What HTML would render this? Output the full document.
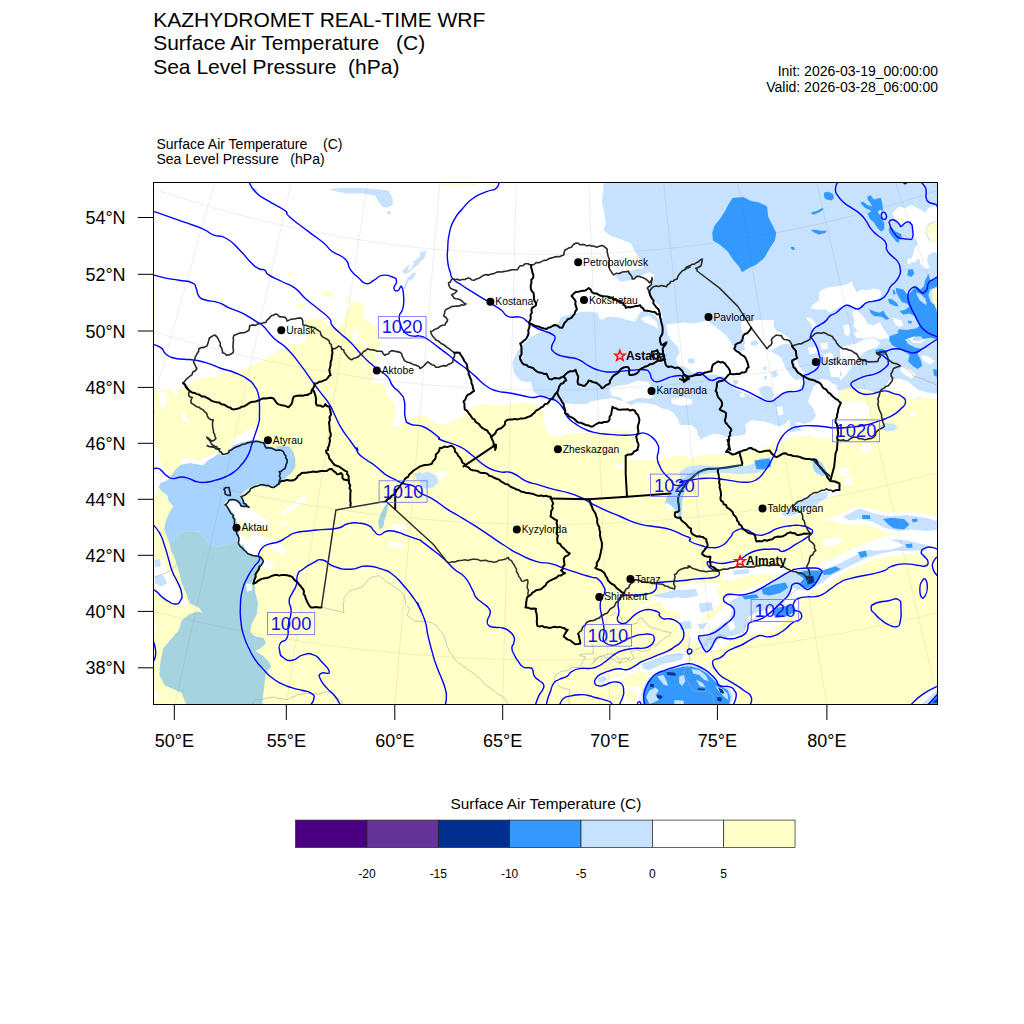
<!DOCTYPE html><html><head><meta charset="utf-8"><title>KAZHYDROMET REAL-TIME WRF</title><style>html,body{margin:0;padding:0;background:#fff}svg{display:block}text{font-family:"Liberation Sans",sans-serif}</style></head><body>
<svg width="1024" height="1024" viewBox="0 0 1024 1024">
<rect width="1024" height="1024" fill="#fff"/>
<defs><clipPath id="fr"><rect x="153.5" y="182.5" width="784.0" height="522.0"/></clipPath></defs>
<g fill="#000">
<text x="153.2" y="26.7" font-size="21">KAZHYDROMET REAL-TIME WRF</text>
<text x="153.2" y="50.3" font-size="21">Surface Air Temperature</text>
<text x="153.2" y="73.9" font-size="21">Sea Level Pressure  (hPa)</text>
<text x="396" y="50.3" font-size="21">(C)</text>
<text x="938" y="76" font-size="14" text-anchor="end">Init: 2026-03-19_00:00:00</text>
<text x="938" y="92" font-size="14" text-anchor="end">Valid: 2026-03-28_06:00:00</text>
<text x="156.5" y="149" font-size="14">Surface Air Temperature</text>
<text x="323" y="149" font-size="14">(C)</text>
<text x="156.5" y="164" font-size="14">Sea Level Pressure   (hPa)</text>
</g>
<g clip-path="url(#fr)">
<path d="M603.3,182.6 L603.3,189.2 L601.9,201.1 L604.6,214.3 L605.9,223.5 L603.3,230.1 L609.8,235.4 L620.4,239.3 L630.9,243.3 L634.9,251.2 L640.2,259.1 L644.1,264.4 L642.8,268.3 L636.2,269.1 L630.9,271.0 L620.4,272.3 L615.1,276.2 L620.4,281.5 L630.9,280.2 L638.8,276.2 L649.4,272.3 L654.7,274.9 L652.0,284.2 L646.8,290.7 L652.0,298.7 L659.9,306.6 L662.6,317.1 L658.6,319.7 L654.7,314.5 L646.8,311.8 L640.2,311.8 L636.2,319.7 L628.3,317.1 L620.4,314.5 L609.8,315.8 L601.9,319.7 L599.3,313.2 L591.4,311.8 L580.8,311.8 L570.3,314.5 L561.1,317.1 L557.1,323.7 L549.2,329.0 L538.7,332.9 L530.7,336.9 L524.2,343.5 L517.6,351.4 L512.3,361.9 L513.6,372.5 L520.2,380.4 L530.7,383.0 L533.4,390.9 L541.3,398.8 L551.8,398.8 L562.4,402.8 L572.9,404.1 L585.0,404.0 L600.0,400.0 L612.0,398.0 L625.0,402.0 L640.0,410.0 L652.0,418.0 L665.0,425.0 L680.0,432.0 L695.0,440.0 L705.0,446.0 L720.0,440.0 L735.0,436.0 L745.0,425.0 L752.0,418.0 L760.0,424.0 L775.0,430.0 L790.0,432.0 L806.0,430.0 L827.0,428.0 L835.0,425.0 L838.0,412.0 L835.6,398.8 L838.2,390.9 L848.8,388.3 L864.6,389.6 L877.8,393.6 L890.9,396.2 L904.1,397.5 L917.3,398.8 L927.9,396.2 L940.0,394.9 L940.0,180.0Z" fill="#C6E2FF"/>
<path d="M150.0,390.9 L153.4,390.9 L165.8,389.6 L183.0,388.3 L193.5,381.7 L202.7,377.8 L215.9,376.4 L229.1,372.5 L242.3,369.8 L260.7,361.9 L273.9,354.0 L279.2,350.1 L287.1,348.7 L290.0,345.2 L299.4,344.4 L305.6,341.2 L307.2,335.0 L304.1,327.2 L305.6,319.4 L311.9,317.8 L321.2,319.4 L329.1,325.6 L336.9,328.8 L343.1,322.5 L346.2,313.1 L349.4,306.9 L352.5,302.2 L358.8,302.2 L363.4,305.3 L365.0,310.0 L361.9,316.2 L368.1,322.5 L374.4,325.6 L377.5,331.9 L377.5,338.1 L382.2,344.4 L377.5,347.5 L374.4,353.8 L377.5,360.0 L374.4,366.2 L371.2,369.4 L372.8,378.8 L377.5,383.4 L383.8,385.0 L386.9,394.4 L389.7,398.8 L395.9,405.0 L395.2,414.4 L392.0,423.8 L392.8,428.4 L400.6,426.1 L408.4,419.1 L416.2,416.7 L424.1,415.2 L430.3,419.1 L436.6,423.0 L441.2,425.3 L447.5,423.0 L455.3,419.8 L463.1,416.7 L467.8,411.2 L469.4,408.1 L478.8,405.8 L485.0,403.4 L492.8,405.0 L500.6,405.8 L508.4,404.2 L520.0,403.4 L525.5,402.8 L536.0,404.1 L540.0,409.4 L545.2,412.0 L543.9,419.9 L546.6,433.1 L557.1,437.1 L572.9,433.1 L591.4,433.1 L609.8,430.5 L630.9,430.5 L637.5,435.8 L637.5,449.2 L644.1,455.8 L657.3,461.1 L667.8,458.5 L681.0,454.5 L690.5,458.5 L706.4,454.5 L719.6,450.5 L727.5,453.2 L738.0,451.9 L743.3,450.5 L751.2,447.9 L759.1,453.2 L764.4,442.4 L777.6,439.7 L790.7,437.1 L806.6,435.8 L827.7,433.1 L835.6,430.5 L838.2,412.0 L835.6,398.8 L838.2,390.9 L848.8,388.3 L864.6,389.6 L877.8,393.6 L890.9,396.2 L904.1,397.5 L917.3,398.8 L927.9,396.2 L940.0,394.9 L940.0,706.0 L150.0,706.0Z" fill="#FFFFC8"/>
<path d="M732.7,197.9 L743.3,197.1 L751.2,201.1 L759.1,202.4 L767.0,206.4 L768.3,216.9 L772.3,224.8 L776.2,232.7 L774.9,240.6 L769.6,248.6 L764.4,257.8 L756.5,264.4 L748.6,268.3 L742.0,272.3 L739.3,267.0 L732.7,259.1 L727.5,251.2 L719.6,244.6 L713.0,240.6 L712.2,232.7 L714.3,226.1 L719.6,219.6 L724.8,211.6 L728.8,203.7Z" fill="#3399FF"/>
<path d="M275.0,446.6 L282.8,445.8 L289.1,446.6 L293.0,451.2 L295.3,459.1 L295.3,466.9 L291.4,473.1 L287.5,476.2 L284.4,479.4 L287.5,474.7 L290.6,470.0 L293.0,459.1 L290.6,451.2 L287.5,448.9 L281.2,449.7Z" fill="#A6D3E0"/>
<path d="M158.6,487.2 L160.9,482.5 L167.2,480.2 L171.9,474.7 L176.6,468.4 L181.2,464.5 L189.1,463.0 L195.3,463.8 L203.1,465.3 L207.8,460.6 L214.1,455.9 L218.8,453.6 L221.9,455.9 L226.6,455.2 L229.7,450.5 L234.4,445.0 L240.6,442.7 L246.9,441.1 L253.1,439.5 L259.4,440.3 L264.1,443.4 L268.8,446.6 L275.0,448.1 L281.2,448.9 L287.5,448.1 L290.6,451.2 L293.0,459.1 L293.8,465.3 L290.6,470.0 L287.5,474.7 L284.4,479.4 L280.5,482.5 L278.1,487.2 L273.4,486.4 L265.6,484.8 L257.8,484.1 L251.6,486.4 L246.9,489.5 L242.2,493.4 L239.8,497.3 L243.8,501.2 L248.4,505.9 L243.8,507.5 L239.1,504.4 L234.4,501.2 L228.1,500.5 L224.2,503.6 L225.8,507.5 L231.2,510.6 L235.2,515.3 L236.7,521.6 L237.5,527.8 L239.1,534.1 L237.5,540.3 L232.8,543.4 L226.6,545.0 L218.8,546.6 L212.5,545.8 L207.8,541.9 L203.1,535.6 L198.4,531.7 L192.2,530.9 L184.4,531.7 L178.1,535.6 L173.4,540.3 L169.5,543.4 L167.2,537.2 L164.1,529.4 L165.6,521.6 L168.8,513.8 L173.4,505.9 L168.8,501.2 L167.2,495.0 L162.5,491.9Z" fill="#A9D3FF"/>
<path d="M169.5,543.4 L173.4,540.3 L178.1,535.6 L184.4,531.7 L192.2,530.9 L198.4,531.7 L203.1,535.6 L207.8,541.9 L212.5,545.8 L218.8,546.6 L226.6,545.0 L232.8,543.4 L237.5,540.3 L237.5,543.4 L243.8,545.0 L246.9,552.8 L253.1,554.4 L259.4,556.7 L263.3,560.6 L260.9,566.9 L256.2,573.1 L254.7,580.0 L254.2,582.4 L255.5,592.9 L258.1,603.5 L256.8,614.0 L251.5,624.6 L250.2,632.5 L255.5,636.4 L263.4,637.8 L266.0,643.0 L260.7,648.3 L255.5,650.9 L263.4,656.2 L268.7,661.5 L271.3,666.8 L266.0,672.0 L264.7,682.6 L263.4,693.1 L262.1,706.3 L186.9,706.3 L181.6,693.1 L173.7,689.2 L164.5,685.2 L159.2,674.7 L160.5,661.5 L163.2,648.3 L171.1,639.1 L179.0,629.8 L181.6,620.6 L189.6,614.0 L197.5,611.4 L202.7,612.7 L198.8,607.4 L189.6,603.5 L186.9,595.6 L181.6,582.4 L179.0,571.8 L175.0,558.7 L171.1,550.7Z" fill="#A6D3E0"/>
<path d="M892.5,213.6 L895.6,209.7 L898.8,206.6 L905.0,208.1 L911.2,205.0 L915.9,207.3 L920.6,209.7 L925.3,212.8 L928.4,208.1 L934.7,205.8 L937.8,206.6 L937.8,220.6 L930.0,222.2 L926.1,226.9 L925.3,233.1 L928.4,239.4 L933.1,242.5 L937.8,244.1 L937.8,253.4 L933.1,251.9 L928.4,255.0 L926.9,261.2 L930.0,267.5 L925.3,269.1 L920.6,264.4 L919.1,258.1 L914.4,262.8 L909.7,261.2 L912.8,255.0 L914.4,248.8 L917.5,244.1 L915.9,239.4 L912.8,237.8 L912.8,225.3 L910.5,222.2 L906.6,221.4 L901.9,226.1 L898.8,222.2 L894.8,219.1Z" fill="#FFFFFF"/>
<path d="M926.9,226.9 L930.8,223.8 L937.8,220.6 L937.8,244.1 L933.1,242.5 L928.4,237.8 L926.1,231.6Z" fill="#FFFFC8"/>
<path d="M930.0,231.6 L934.7,231.6 L934.7,237.8 L930.0,237.8Z" fill="#FFFFFF"/>
<path d="M932.3,289.4 L937.8,287.8 L937.8,308.1 L933.9,306.6 L932.3,298.8Z" fill="#FFFFC8"/>
<path d="M810.5,308.1 L814.4,303.4 L819.1,300.3 L819.1,292.5 L822.2,289.4 L830.0,287.0 L837.8,286.2 L845.6,284.7 L851.9,281.6 L853.4,286.2 L856.6,292.5 L861.2,289.4 L867.5,290.2 L873.8,288.6 L880.0,289.4 L881.6,295.6 L876.9,300.3 L867.5,301.9 L861.2,305.0 L856.6,308.1 L850.3,306.6 L845.6,305.0 L840.9,306.6 L834.7,309.7 L830.0,312.8 L825.3,308.9 L817.5,309.7Z" fill="#FFFFFF"/>
<path d="M805.8,317.5 L811.2,318.3 L815.2,322.2 L815.9,326.9 L812.8,330.0 L811.2,324.5 L808.1,320.6Z" fill="#FFFFFF"/>
<path d="M852.7,309.7 L856.6,309.7 L861.2,314.4 L865.2,319.1 L867.5,323.8 L873.8,325.3 L880.0,322.2 L883.1,328.4 L887.8,334.7 L889.4,337.8 L881.6,337.0 L873.8,334.7 L867.5,333.1 L861.2,334.7 L856.6,330.0 L853.4,325.3 L855.0,320.6 L852.7,315.9Z" fill="#FFFFFF"/>
<path d="M843.3,325.3 L848.8,324.5 L850.3,330.0 L848.8,336.2 L844.8,334.7Z" fill="#FFFFFF"/>
<path d="M892.5,317.5 L897.2,319.1 L901.9,320.6 L903.4,325.3 L898.8,326.9 L894.8,323.8Z" fill="#FFFFFF"/>
<path d="M908.1,258.1 L911.2,259.7 L910.5,264.4 L907.3,263.6Z" fill="#FFFFFF"/>
<path d="M824.2,192.5 L828.4,191.7 L833.1,194.1 L833.9,198.8 L830.8,200.6 L825.3,199.1 L823.8,195.6Z" fill="#3399FF"/>
<path d="M811.2,212.5 L816.7,210.9 L822.2,208.1 L823.4,209.4 L819.8,212.0 L814.4,214.4 L811.7,214.1Z" fill="#3399FF"/>
<path d="M810.9,230.0 L815.9,229.7 L820.6,230.8 L826.6,230.8 L825.3,233.1 L819.1,234.4 L813.6,232.3Z" fill="#3399FF"/>
<path d="M790.6,246.9 L794.1,246.9 L794.8,250.3 L791.7,249.5Z" fill="#3399FF"/>
<path d="M867.5,196.4 L870.6,195.3 L873.8,199.5 L877.7,198.4 L880.8,198.0 L882.3,203.4 L883.1,211.2 L880.0,209.7 L877.7,212.0 L881.6,217.5 L884.4,223.8 L883.9,230.0 L880.8,231.6 L876.9,226.9 L873.8,222.2 L869.8,219.1 L867.5,213.6 L871.4,211.2 L869.1,209.7 L865.2,208.1 L862.0,205.0 L860.5,201.9 L863.6,201.9 L867.5,205.0 L872.2,206.6 L869.8,201.9 L867.5,199.5Z" fill="#3399FF"/>
<path d="M889.4,226.9 L892.5,228.4 L895.6,231.6 L901.1,233.9 L901.9,237.0 L898.8,238.6 L899.5,242.5 L896.4,241.7 L892.5,237.0 L889.4,233.1 L888.6,229.2Z" fill="#3399FF"/>
<path d="M895.6,287.8 L903.4,289.4 L908.1,295.6 L912.8,289.4 L915.9,286.2 L920.6,289.4 L923.8,286.2 L925.3,280.0 L928.4,273.8 L930.0,280.0 L933.9,278.4 L937.8,276.1 L937.8,286.2 L930.0,289.4 L928.4,295.6 L930.8,301.9 L934.7,305.0 L937.8,314.4 L937.8,336.2 L930.0,336.2 L925.3,331.6 L919.1,334.7 L912.8,335.5 L905.0,334.7 L897.2,332.3 L898.8,329.2 L906.6,330.0 L915.9,328.4 L920.6,325.3 L917.5,320.6 L914.4,315.9 L909.7,313.6 L903.4,314.4 L899.5,311.2 L905.0,309.7 L909.7,306.6 L906.6,303.4 L901.9,301.9 L898.8,297.2 L896.4,292.5Z" fill="#3399FF"/>
<path d="M915.9,292.5 L920.6,294.1 L925.3,298.8 L926.9,305.0 L923.8,303.4 L919.8,300.3 L917.5,296.4Z" fill="#C6E2FF"/>
<path d="M908.1,269.8 L912.8,269.1 L914.4,273.8 L911.2,276.9 L907.3,275.3Z" fill="#3399FF"/>
<path d="M869.1,308.9 L873.8,311.2 L880.0,312.8 L883.1,310.5 L885.5,314.4 L889.4,319.1 L886.2,319.8 L881.6,316.7 L873.8,315.9 L870.6,312.8Z" fill="#3399FF"/>
<path d="M887.8,298.8 L892.5,299.5 L897.2,303.4 L898.8,306.6 L894.1,305.8 L889.4,303.4Z" fill="#3399FF"/>
<path d="M892.5,289.4 L894.8,290.2 L895.6,294.1 L893.3,294.8Z" fill="#3399FF"/>
<path d="M908.1,320.6 L912.0,321.4 L911.2,323.8 L908.1,323.0Z" fill="#3399FF"/>
<path d="M795.6,351.9 L805.0,345.6 L811.2,340.9 L820.6,339.4 L831.6,344.1 L839.4,348.8 L845.6,345.6 L855.0,344.1 L864.4,339.4 L873.8,337.8 L880.0,342.5 L876.9,347.2 L867.5,350.3 L861.2,355.0 L855.0,361.2 L850.3,369.1 L845.6,375.3 L839.4,381.6 L836.2,387.8 L839.4,392.5 L840.9,398.8 L845.6,401.9 L858.1,400.3 L867.5,403.4 L870.6,411.2 L867.5,417.5 L855.0,419.1 L842.5,423.8 L834.7,430.0 L831.6,438.6 L812.8,437.8 L808.1,431.6 L800.3,429.2 L795.6,423.8 L801.9,417.5 L811.2,414.4 L815.9,406.6 L812.8,398.8 L808.1,394.1 L809.7,389.4 L815.9,384.7 L820.6,381.6 L811.2,376.9 L803.4,375.3 L797.2,369.1 L794.1,361.2Z" fill="#FFFFFF"/>
<path d="M808.1,348.8 L815.9,347.2 L820.6,351.9 L819.1,358.1 L814.4,362.8 L809.7,359.7 L806.6,353.4Z" fill="#C6E2FF"/>
<path d="M822.2,365.9 L831.6,364.4 L839.4,369.1 L842.5,375.3 L836.2,378.4 L828.4,375.3 L823.8,370.6Z" fill="#C6E2FF"/>
<path d="M826.9,348.8 L834.7,350.3 L837.8,355.0 L833.1,356.6 L828.4,353.4Z" fill="#C6E2FF"/>
<path d="M853.4,333.1 L861.2,330.0 L873.8,330.8 L886.2,334.7 L889.4,337.8 L880.0,339.4 L873.8,337.0 L864.4,338.6 L856.6,337.8Z" fill="#FFFFFF"/>
<path d="M889.4,380.0 L898.8,378.4 L908.1,381.6 L917.5,389.4 L926.9,392.5 L937.8,394.1 L937.8,398.8 L920.6,397.2 L908.1,399.5 L903.4,391.7 L892.5,390.9 L883.1,390.2 L886.2,384.7Z" fill="#FFFFFF"/>
<path d="M901.9,365.9 L909.7,369.1 L915.9,375.3 L911.2,378.4 L905.0,375.3 L900.3,370.6Z" fill="#FFFFFF"/>
<path d="M920.6,355.0 L928.4,356.6 L934.7,361.2 L930.0,364.4 L923.8,361.2Z" fill="#FFFFFF"/>
<path d="M908.1,337.8 L917.5,336.2 L925.3,339.4 L920.6,343.3 L912.8,342.5Z" fill="#FFFFFF"/>
<path d="M839.4,392.5 L845.6,390.2 L853.4,388.6 L858.1,392.5 L867.5,394.1 L867.5,403.4 L858.1,400.3 L845.6,401.9 L840.9,398.8Z" fill="#FFFFC8"/>
<path d="M867.5,394.1 L876.9,392.5 L883.1,390.2 L892.5,390.9 L903.4,391.7 L908.1,399.5 L898.8,403.4 L889.4,408.1 L880.0,414.4 L870.6,417.5 L870.6,411.2 L867.5,403.4Z" fill="#FFFFC8"/>
<path d="M880.0,425.3 L886.2,423.0 L894.1,423.8 L898.0,426.9 L894.1,430.8 L886.2,431.6 L881.6,430.0Z" fill="#C6E2FF"/>
<path d="M861.2,445.6 L867.5,443.3 L871.4,447.2 L867.5,452.7 L862.0,452.7Z" fill="#FFFFFF"/>
<path d="M909.7,412.8 L915.2,410.5 L915.9,415.2 L911.2,417.5Z" fill="#FFFFFF"/>
<path d="M837.8,470.6 L845.6,468.3 L848.0,473.0 L840.9,476.9Z" fill="#FFFFFF"/>
<path d="M844.8,477.7 L851.1,476.1 L851.9,480.8 L846.4,482.3Z" fill="#FFFFFF"/>
<path d="M889.4,336.2 L898.8,333.1 L909.7,331.6 L920.6,330.0 L930.0,330.0 L937.8,333.1 L937.8,339.4 L930.0,337.8 L920.6,339.4 L914.4,336.2 L905.0,339.4 L908.1,344.1 L914.4,347.2 L920.6,348.8 L917.5,353.4 L920.6,359.7 L922.2,365.9 L917.5,369.1 L912.8,365.9 L908.1,361.2 L909.7,355.0 L905.0,351.9 L898.8,348.8 L892.5,345.6 L889.4,340.9Z" fill="#3399FF"/>
<path d="M912.8,337.0 L920.6,336.2 L923.8,339.4 L917.5,341.7 L912.8,340.2Z" fill="#C6E2FF"/>
<path d="M875.3,350.3 L881.6,348.8 L887.8,351.1 L886.2,355.0 L880.0,355.8 L876.1,353.4Z" fill="#3399FF"/>
<path d="M933.1,369.1 L937.0,369.8 L937.0,376.9 L933.9,375.3Z" fill="#3399FF"/>
<path d="M812.8,459.7 L817.5,459.7 L822.2,462.8 L825.3,469.1 L826.9,475.3 L822.2,476.1 L815.9,473.0 L812.8,467.5Z" fill="#A9D3FF"/>
<path d="M666.2,324.4 L674.0,323.4 L683.8,322.5 L691.6,323.4 L699.4,322.5 L707.2,320.5 L715.0,326.4 L720.9,331.2 L726.7,336.1 L732.6,342.0 L736.5,340.0 L739.4,333.2 L740.4,326.4 L746.2,322.5 L752.1,323.4 L759.9,321.5 L766.8,320.5 L773.6,325.4 L776.5,331.2 L780.4,332.2 L786.3,336.1 L790.0,339.1 L790.0,367.4 L777.5,367.4 L766.8,368.4 L758.0,372.3 L750.2,375.2 L742.3,374.2 L732.6,375.2 L726.7,377.1 L720.9,376.2 L715.0,374.2 L707.2,375.2 L699.4,374.2 L691.6,372.3 L687.7,368.4 L683.8,366.4 L677.9,365.4 L675.9,358.6 L679.8,352.7 L677.9,346.9 L672.0,341.0 L668.1,335.2 L667.1,329.3Z" fill="#FFFFFF"/>
<path d="M750.2,342.0 L758.0,342.0 L758.9,345.9 L751.1,346.5Z" fill="#C6E2FF"/>
<path d="M769.7,350.8 L777.5,348.8 L785.3,352.7 L790.0,354.7 L790.0,364.5 L781.4,362.5 L773.6,358.6Z" fill="#C6E2FF"/>
<path d="M687.7,358.6 L694.5,358.6 L694.5,363.5 L688.6,363.5Z" fill="#C6E2FF"/>
<path d="M609.5,387.9 L617.3,385.9 L629.1,384.0 L638.8,380.5 L648.6,382.0 L650.5,385.9 L648.6,393.8 L654.5,396.7 L648.6,398.6 L638.8,397.7 L629.1,401.6 L623.2,402.5 L621.2,397.7 L611.5,395.7Z" fill="#FFFFFF"/>
<path d="M671.1,398.6 L681.8,396.7 L692.5,399.6 L691.6,404.5 L679.8,405.5 L671.6,403.5Z" fill="#FFFFFF"/>
<path d="M597.8,313.7 L609.5,311.7 L621.2,314.6 L633.0,318.6 L636.9,321.5 L629.1,320.5 L619.3,317.6 L607.6,316.6 L599.8,319.5Z" fill="#FFFFFF"/>
<path d="M640.8,318.6 L648.6,315.6 L656.4,321.5 L658.4,329.3 L652.5,325.4 L644.7,322.5Z" fill="#FFFFFF"/>
<path d="M590.0,401.6 L601.7,399.6 L609.5,401.6 L611.5,406.4 L621.2,409.4 L629.1,406.4 L636.9,402.5 L648.6,403.5 L656.4,405.5 L662.3,408.4 L668.1,409.4 L674.0,413.3 L677.9,419.1 L679.8,425.0 L691.6,425.0 L696.4,428.9 L698.4,436.7 L707.2,436.7 L715.0,434.8 L720.9,432.8 L726.7,436.7 L730.6,440.6 L744.3,440.6 L746.2,432.8 L744.3,425.0 L752.1,421.1 L759.9,422.1 L769.7,425.0 L777.5,427.0 L785.3,425.0 L790.0,421.1 L790.0,439.6 L777.5,443.6 L765.8,446.5 L750.2,448.4 L726.7,454.3 L707.2,454.3 L691.6,456.2 L677.9,454.3 L667.1,456.2 L654.5,460.0 L626.1,460.0 L630.0,454.3 L635.3,444.5 L636.3,434.8 L635.9,429.9 L609.5,430.5 L590.0,431.8Z" fill="#FFFFFF"/>
<path d="M634.5,610.2 L641.6,604.7 L649.4,601.6 L655.6,595.3 L663.4,593.8 L672.8,587.5 L683.8,585.2 L696.2,583.6 L708.8,582.8 L719.7,583.6 L719.7,587.5 L715.0,592.2 L718.1,596.9 L722.8,601.6 L718.1,606.2 L710.3,607.8 L702.5,610.2 L696.2,609.4 L690.0,612.5 L683.8,615.6 L677.5,612.5 L672.8,610.9 L666.6,609.4 L660.3,601.6 L652.5,603.1 L644.7,606.2 L638.4,610.2Z" fill="#FFFFFF"/>
<path d="M654.1,594.5 L663.4,593.0 L671.2,590.6 L683.8,589.1 L696.2,585.9 L705.6,585.2 L708.8,590.6 L705.6,595.3 L699.4,598.4 L693.1,596.9 L688.4,601.6 L682.2,600.0 L677.5,596.9 L671.2,598.4 L663.4,597.7 L655.6,596.9Z" fill="#C6E2FF"/>
<path d="M696.2,603.9 L705.6,603.1 L715.0,604.7 L713.4,610.2 L704.1,610.9 L697.8,608.6Z" fill="#C6E2FF"/>
<path d="M677.5,612.5 L683.8,615.6 L690.0,612.5 L696.2,618.8 L699.4,628.1 L697.8,635.9 L693.1,642.2 L686.9,643.8 L690.0,634.4 L691.6,625.0 L686.9,620.3Z" fill="#FFFFFF"/>
<path d="M696.2,621.9 L708.8,618.8 L721.2,617.2 L722.8,623.4 L718.1,629.7 L708.8,631.2 L699.4,631.2Z" fill="#FFFFFF"/>
<path d="M697.8,624.2 L707.2,622.7 L719.7,623.4 L718.1,628.9 L708.8,629.7 L699.4,628.9Z" fill="#C6E2FF"/>
<path d="M722.8,564.8 L730.6,563.3 L740.0,561.7 L750.0,559.4 L750.0,570.3 L740.0,571.9 L730.6,576.6 L724.4,581.2 L721.2,578.1 L724.4,571.9 L727.5,568.8Z" fill="#FFFFFF"/>
<path d="M744.7,561.7 L750.0,560.2 L750.0,565.6 L746.2,566.4Z" fill="#C6E2FF"/>
<path d="M697.8,636.7 L705.6,633.6 L713.4,629.7 L719.7,625.0 L725.9,619.5 L730.6,614.1 L732.2,610.2 L729.1,604.7 L724.4,600.8 L722.8,596.1 L726.7,593.8 L750.0,593.0 L750.0,632.8 L743.1,635.9 L736.9,638.3 L730.6,639.8 L724.4,637.5 L718.9,639.1 L715.0,643.8 L711.9,650.0 L707.2,652.3 L702.5,649.2 L699.4,643.8Z" fill="#FFFFFF"/>
<path d="M699.4,637.5 L705.6,635.2 L713.4,631.2 L719.7,626.6 L725.9,621.1 L731.4,615.6 L733.8,610.2 L730.6,604.7 L725.9,600.8 L724.4,596.9 L727.5,595.3 L750.0,594.5 L750.0,631.2 L743.1,634.4 L736.9,636.7 L730.6,638.3 L724.4,635.9 L718.1,637.5 L713.4,642.2 L711.1,647.7 L707.2,650.8 L703.3,647.7 L700.2,642.2Z" fill="#C6E2FF"/>
<path d="M729.1,626.6 L733.8,625.8 L734.5,632.8 L729.8,634.4Z" fill="#FFFFFF"/>
<path d="M735.3,606.2 L740.0,605.5 L740.8,610.9 L736.1,610.9Z" fill="#FFFFFF"/>
<path d="M738.4,595.3 L746.2,594.5 L746.2,597.7 L739.2,598.1Z" fill="#3399FF"/>
<path d="M640.0,704.7 L640.0,693.8 L643.1,684.4 L649.4,676.6 L657.2,671.1 L665.0,667.2 L674.4,664.8 L683.8,662.5 L693.1,662.8 L702.5,664.8 L710.3,670.3 L716.6,676.6 L722.8,682.0 L730.6,685.2 L736.9,690.6 L738.4,698.4 L735.3,704.7Z" fill="#FFFFFF"/>
<path d="M596.2,677.3 L602.5,673.4 L611.9,670.3 L621.2,668.8 L630.6,669.5 L638.4,665.6 L646.2,660.9 L655.6,657.8 L665.0,653.9 L674.4,651.6 L682.2,650.0 L686.9,653.1 L690.0,659.4 L686.9,664.1 L677.5,665.6 L668.1,667.2 L658.8,671.9 L652.5,675.0 L646.2,673.4 L640.0,670.3 L633.8,673.4 L627.5,675.0 L621.2,679.7 L613.4,681.2 L605.6,682.8 L599.4,684.4 L596.2,682.0Z" fill="#FFFFFF"/>
<path d="M641.6,664.1 L649.4,660.9 L658.8,657.8 L668.1,654.7 L677.5,653.1 L683.8,653.9 L682.2,659.4 L674.4,661.7 L665.0,663.3 L655.6,667.2 L649.4,670.3 L643.1,668.8Z" fill="#C6E2FF"/>
<path d="M597.8,678.1 L604.1,675.8 L607.2,679.7 L602.5,682.8 L598.6,682.0Z" fill="#C6E2FF"/>
<path d="M605.6,675.0 L615.0,672.7 L624.4,671.9 L627.5,673.4 L621.2,676.6 L613.4,678.1 L607.2,678.9Z" fill="#FFFFC8"/>
<path d="M623.6,685.9 L630.6,687.5 L636.9,685.9 L641.6,690.6 L640.0,698.4 L638.4,704.7 L622.8,704.7 L623.6,696.9Z" fill="#FFFFFF"/>
<path d="M625.2,690.6 L632.2,689.8 L636.9,693.0 L635.3,700.0 L627.5,701.6 L625.2,696.9Z" fill="#FFFFC8"/>
<path d="M642.0,704.7 L641.2,694.5 L643.6,686.2 L648.6,678.1 L655.9,672.3 L664.4,669.1 L674.1,666.7 L683.8,664.4 L691.9,664.4 L700.3,666.9 L708.4,671.9 L715.0,678.4 L720.9,684.4 L729.1,688.1 L732.8,696.1 L731.2,704.7Z" fill="#C6E2FF"/>
<path d="M643.9,704.7 L643.1,695.3 L645.5,687.5 L650.2,679.7 L657.2,674.2 L665.0,671.1 L674.4,668.8 L683.8,666.4 L691.6,666.4 L699.4,668.8 L707.2,673.4 L713.4,679.7 L719.7,685.9 L727.5,689.8 L730.6,696.9 L729.1,704.7Z" fill="#3399FF"/>
<path d="M646.2,696.9 L649.4,690.6 L655.6,687.5 L658.8,690.6 L655.6,695.3 L658.8,700.0 L654.1,702.3 L649.4,703.9Z" fill="#C6E2FF"/>
<path d="M657.2,676.6 L663.4,675.0 L666.6,681.2 L668.1,685.9 L663.4,684.4 L660.3,680.5Z" fill="#C6E2FF"/>
<path d="M679.1,676.6 L683.8,675.0 L685.3,681.2 L682.2,685.9 L679.1,682.8Z" fill="#C6E2FF"/>
<path d="M691.6,668.8 L699.4,670.3 L705.6,675.0 L708.8,681.2 L704.1,679.7 L699.4,675.0 L693.1,673.4Z" fill="#C6E2FF"/>
<path d="M696.2,679.7 L702.5,682.8 L705.6,687.5 L699.4,685.9Z" fill="#C6E2FF"/>
<path d="M715.0,685.9 L722.8,689.1 L727.5,693.8 L728.3,700.0 L724.4,696.9 L719.7,692.2Z" fill="#C6E2FF"/>
<path d="M674.4,700.0 L683.8,700.8 L683.8,704.7 L674.4,704.7Z" fill="#C6E2FF"/>
<path d="M666.6,671.9 L675.2,672.7 L675.9,675.8 L667.3,675.0Z" fill="#00308F"/>
<path d="M650.2,683.6 L654.1,684.4 L653.3,687.5 L650.2,686.7Z" fill="#00308F"/>
<path d="M657.2,694.5 L662.7,696.1 L661.1,699.2 L657.2,697.7Z" fill="#00308F"/>
<path d="M718.1,687.5 L722.8,689.8 L724.4,693.8 L720.5,693.0Z" fill="#00308F"/>
<path d="M717.3,696.9 L722.0,697.7 L721.2,701.6 L717.3,700.8Z" fill="#00308F"/>
<path d="M697.8,688.3 L704.8,688.8 L704.8,690.2 L697.8,689.8Z" fill="#00308F"/>
<path d="M695.8,640.4 L706.4,624.6 L722.2,608.7 L724.8,598.2 L738.0,592.9 L759.1,585.0 L780.2,574.5 L796.0,566.6 L817.1,563.9 L838.2,556.0 L859.3,545.5 L880.4,537.6 L901.5,532.3 L917.3,529.6 L939.7,527.0 L939.7,553.4 L927.9,556.0 L917.3,554.7 L906.8,553.4 L890.9,556.0 L875.1,558.7 L864.6,563.9 L848.7,569.2 L838.2,577.1 L827.7,585.0 L811.8,591.6 L801.3,598.2 L796.0,608.7 L785.5,619.3 L772.3,629.8 L759.1,632.5 L745.9,635.1 L732.7,640.4 L719.6,648.3 L709.0,653.6 L701.1,650.9Z" fill="#FFFFFF"/>
<path d="M699.8,637.8 L709.0,633.8 L719.6,625.9 L730.1,618.0 L732.7,610.1 L728.8,602.2 L740.6,595.6 L756.5,590.3 L769.6,583.7 L782.8,575.8 L796.0,570.5 L811.8,569.2 L822.4,570.5 L838.2,563.9 L848.7,558.7 L864.6,550.7 L880.4,544.2 L896.2,538.9 L912.0,541.5 L927.9,545.5 L925.2,550.7 L912.0,550.7 L896.2,550.7 L880.4,553.4 L864.6,558.7 L854.0,563.9 L843.5,569.2 L832.9,574.5 L822.4,582.4 L811.8,587.7 L801.3,590.3 L793.4,587.7 L788.1,595.6 L782.8,603.5 L769.6,608.7 L756.5,612.7 L748.6,616.7 L745.9,627.2 L740.6,633.8 L730.1,636.4 L719.6,639.1 L713.0,645.7 L709.0,650.9 L703.7,649.6 L700.6,643.0Z" fill="#C6E2FF"/>
<path d="M864.6,544.2 L880.4,540.2 L896.2,541.5 L904.1,545.5 L890.9,549.4 L875.1,550.7 L867.2,549.4Z" fill="#FFFFFF"/>
<path d="M796.0,573.2 L806.6,570.5 L821.1,570.5 L819.7,578.4 L814.5,586.3 L806.6,588.2 L798.7,584.5 L803.9,578.4Z" fill="#3399FF"/>
<path d="M805.2,577.1 L813.2,575.8 L814.5,582.4 L807.9,584.5Z" fill="#00308F"/>
<path d="M761.7,589.0 L772.3,585.0 L785.5,582.4 L788.1,587.7 L780.2,592.9 L769.6,595.6 L763.1,594.2Z" fill="#3399FF"/>
<path d="M742.0,596.1 L756.5,594.2 L759.1,597.7 L744.6,599.5Z" fill="#3399FF"/>
<path d="M822.4,570.5 L835.6,566.6 L840.8,569.2 L830.3,574.5 L823.7,575.0Z" fill="#3399FF"/>
<path d="M858.0,552.1 L865.9,550.7 L867.2,556.0 L860.6,558.1Z" fill="#3399FF"/>
<path d="M905.4,544.2 L912.0,543.4 L912.6,547.6 L906.8,548.1Z" fill="#3399FF"/>
<path d="M772.3,608.7 L790.7,604.8 L796.0,611.4 L785.5,616.7 L774.9,618.0Z" fill="#3399FF"/>
<path d="M727.5,621.9 L732.7,619.3 L735.4,627.2 L730.1,631.2Z" fill="#FFFFFF"/>
<path d="M822.4,519.1 L838.2,515.1 L854.0,507.2 L864.6,507.2 L880.4,511.2 L896.2,512.5 L917.3,512.5 L939.7,516.5 L939.7,534.9 L917.3,533.6 L906.8,537.6 L896.2,536.2 L885.7,532.3 L875.1,527.0 L864.6,524.4 L854.0,524.4 L843.5,524.4 L832.9,521.7Z" fill="#FFFFFF"/>
<path d="M843.5,516.5 L859.3,508.6 L875.1,513.8 L890.9,516.5 L906.8,515.1 L925.2,517.8 L939.7,521.7 L939.7,529.6 L925.2,531.0 L912.0,529.6 L898.8,531.0 L885.7,528.3 L872.5,521.7 L859.3,519.1 L848.7,520.4Z" fill="#C6E2FF"/>
<path d="M861.9,515.1 L869.8,515.1 L870.4,519.1 L862.5,519.1Z" fill="#3399FF"/>
<path d="M883.0,519.1 L890.9,517.8 L904.1,519.1 L909.4,524.4 L904.1,529.6 L893.6,528.3 L888.3,524.4Z" fill="#3399FF"/>
<path d="M912.0,519.1 L917.3,518.6 L917.3,521.7 L912.6,522.3Z" fill="#3399FF"/>
<path d="M777.6,515.1 L790.7,505.9 L803.9,496.7 L817.1,491.4 L827.7,487.5 L840.8,484.8 L840.8,492.7 L830.3,496.7 L819.7,503.3 L806.6,511.2 L796.0,516.5 L785.5,519.1Z" fill="#FFFFFF"/>
<path d="M781.5,513.8 L793.4,505.9 L806.6,498.0 L819.7,492.7 L827.7,491.4 L827.7,496.7 L817.1,504.6 L803.9,511.2 L793.4,515.1 L785.5,516.5Z" fill="#C6E2FF"/>
<path d="M811.8,459.8 L817.1,458.5 L823.7,466.4 L826.3,474.3 L819.7,473.0 L813.2,466.4Z" fill="#A9D3FF"/>
<path d="M838.2,469.0 L848.7,467.7 L848.7,475.6 L839.5,475.6Z" fill="#FFFFFF"/>
<path d="M861.9,445.3 L869.8,444.0 L870.4,451.9 L863.3,451.9Z" fill="#FFFFFF"/>
<path d="M843.5,482.2 L851.4,479.6 L852.7,484.8 L844.8,486.1Z" fill="#FFFFFF"/>
<path d="M680.0,471.6 L687.9,466.4 L701.1,465.0 L716.9,466.4 L732.7,467.7 L743.3,466.4 L753.8,463.7 L759.1,458.5 L769.6,457.1 L772.3,463.7 L767.0,469.0 L756.5,473.0 L743.3,474.3 L727.5,473.0 L711.6,473.0 L695.8,475.6 L685.3,479.6 L680.0,487.5Z" fill="#C6E2FF"/>
<path d="M754.4,460.6 L769.6,458.5 L771.0,466.4 L764.4,469.5 L756.5,469.0Z" fill="#3399FF"/>
<path d="M722.2,577.1 L738.0,569.2 L759.1,566.6 L785.5,566.0 L796.0,570.5 L780.2,574.5 L759.1,574.5 L743.3,577.1 L730.1,581.1Z" fill="#FFFFFF"/>
<path d="M732.7,570.5 L748.6,568.7 L749.1,573.2 L734.1,575.0Z" fill="#C6E2FF"/>
<path d="M680.0,586.3 L690.5,583.7 L706.4,585.0 L716.9,590.3 L719.6,598.2 L714.3,608.7 L706.4,614.0 L695.8,624.6 L680.0,629.8Z" fill="#FFFFFF"/>
<path d="M680.0,590.3 L695.8,589.0 L698.5,595.6 L685.3,598.2 L680.0,597.7Z" fill="#C6E2FF"/>
<path d="M698.5,603.5 L711.6,602.2 L713.0,610.1 L701.1,612.7Z" fill="#C6E2FF"/>
<path d="M680.0,621.9 L690.5,620.6 L691.9,628.5 L680.0,630.4Z" fill="#C6E2FF"/>
<path d="M822.4,540.2 L838.2,536.2 L843.5,541.5 L830.3,546.8 L823.7,545.5Z" fill="#FFFFFF"/>
<path d="M153.1,443.4 L157.0,446.6 L159.4,455.9 L161.7,465.3 L167.2,471.6 L171.9,474.7 L167.2,480.2 L160.9,482.5 L158.6,487.2 L157.8,493.4 L153.1,495.0Z" fill="#FFFFFF"/>
<path d="M228.9,443.4 L232.8,438.8 L240.6,434.8 L248.4,429.4 L253.1,427.8 L256.2,430.9 L259.4,435.6 L257.8,439.5 L253.1,439.5 L246.9,441.1 L240.6,442.7 L234.4,445.0Z" fill="#FFFFFF"/>
<path d="M225.0,502.0 L228.1,500.5 L234.4,501.2 L239.1,504.4 L243.8,507.5 L250.0,509.1 L256.2,512.2 L262.5,516.9 L268.8,520.0 L270.3,524.7 L265.6,527.8 L259.4,526.2 L256.2,529.4 L259.4,535.6 L268.8,538.8 L275.0,540.3 L281.2,545.0 L285.9,549.7 L284.4,554.4 L278.1,552.8 L271.9,549.7 L265.6,545.0 L259.4,551.2 L257.8,555.2 L253.1,554.4 L246.9,552.8 L243.8,545.0 L237.5,543.4 L239.1,534.1 L245.3,537.2 L250.0,538.8 L251.6,532.5 L250.0,527.8 L243.8,526.2 L240.6,520.0 L236.7,521.6 L235.2,515.3 L231.2,510.6 L225.8,507.5Z" fill="#FFFFFF"/>
<path d="M281.2,512.2 L287.5,507.5 L295.3,502.8 L300.0,498.1 L304.7,495.0 L306.2,501.2 L300.0,504.4 L290.6,510.6 L284.4,516.1Z" fill="#FFFFFF"/>
<path d="M279.7,523.9 L287.5,520.8 L289.1,523.1 L281.2,526.2Z" fill="#FFFFFF"/>
<path d="M262.5,561.4 L270.3,559.8 L274.2,565.3 L268.8,570.0 L263.3,567.7Z" fill="#FFFFFF"/>
<path d="M180.5,462.2 L184.4,457.5 L190.6,459.1 L196.9,460.6 L203.1,459.1 L209.4,455.2 L215.6,452.8 L218.8,453.6 L214.1,456.7 L207.8,460.6 L203.1,465.3 L195.3,463.8 L189.1,463.0 L182.8,464.5Z" fill="#FFFFFF"/>
<path d="M185.2,420.0 L189.1,420.0 L189.8,423.9 L186.7,423.1Z" fill="#FFFFFF"/>
<path d="M153.9,559.1 L159.4,557.5 L160.9,566.9 L156.2,570.0 L153.9,568.4Z" fill="#FFFFFF"/>
<path d="M153.9,574.7 L159.4,573.9 L160.9,580.0 L153.9,580.0Z" fill="#C6E2FF"/>
<path d="M388.6,541.5 L403.1,542.8 L403.1,548.1 L389.9,546.8Z" fill="#FFFFFF"/>
<path d="M392.6,524.4 L405.8,524.4 L405.8,532.3 L392.6,532.3Z" fill="#FFFFFF"/>
<path d="M280.5,521.7 L287.1,520.4 L283.2,525.7Z" fill="#FFFFFF"/>
<path d="M379.4,529.6 L378.1,521.7 L380.7,513.8 L384.7,505.9 L388.6,502.0 L387.3,511.2 L384.7,519.1 L383.3,527.0Z" fill="#A6D3E0"/>
<path d="M415.0,474.3 L420.0,471.6 L424.2,475.6 L420.0,480.9 L416.3,479.6Z" fill="#C6E2FF"/>
<path d="M155.3,560.0 L163.2,558.7 L165.8,571.8 L161.9,583.7 L155.3,582.4Z" fill="#FFFFFF"/>
<path d="M156.6,574.5 L164.5,573.2 L165.8,583.7 L157.9,585.0Z" fill="#C6E2FF"/>
<path d="M284.5,643.0 L288.4,641.7 L289.2,648.3 L285.0,648.8Z" fill="#FFFFFF"/>
<path d="M246.2,583.7 L251.5,583.7 L252.3,590.3 L247.0,591.6Z" fill="#FFFFFF"/>
<path d="M154.0,624.6 L156.6,625.9 L155.8,632.5 L154.0,632.0Z" fill="#FFFFFF"/>
<path d="M420.0,474.3 L427.9,471.6 L435.8,475.6 L438.5,482.2 L433.2,487.5 L425.3,488.8 L420.0,486.1Z" fill="#C6E2FF"/>
<path d="M435.8,471.6 L445.0,471.1 L446.4,476.9 L438.5,479.6Z" fill="#FFFFFF"/>
<path d="M616.4,463.7 L624.3,463.2 L625.1,469.0 L617.2,469.5Z" fill="#FFFFFF"/>
<path d="M328.0,189.2 L339.8,187.9 L360.9,187.9 L376.8,189.2 L388.6,190.5 L392.6,198.5 L392.6,205.0 L387.3,207.7 L382.0,206.4 L378.1,201.1 L375.4,195.8 L360.9,193.2 L345.1,193.2 L334.6,191.1Z" fill="#C6E2FF"/>
<path d="M251.5,187.9 L256.8,188.4 L256.8,191.9 L252.3,191.9Z" fill="#C6E2FF"/>
<path d="M420.0,256.5 L413.7,261.7 L407.1,267.0 L403.1,272.3 L407.1,273.6 L413.7,268.3 L420.0,263.1Z" fill="#C6E2FF"/>
<path d="M408.4,277.6 L413.7,272.3 L416.3,273.6 L411.0,281.5Z" fill="#C6E2FF"/>
<path d="M387.3,211.1 L390.5,211.1 L390.5,214.3 L387.3,214.3Z" fill="#C6E2FF"/>
<path d="M159.2,390.9 L165.8,392.3 L167.1,404.1 L161.9,409.4 L159.2,401.5Z" fill="#FFFFFF"/>
<path d="M172.4,388.3 L176.4,387.0 L177.7,394.9 L173.7,396.2Z" fill="#FFFFFF"/>
<path d="M181.6,412.0 L185.6,413.3 L188.2,422.6 L183.7,421.3Z" fill="#FFFFFF"/>
<path d="M153.4,288.1 L154.7,288.1 L154.7,327.7 L153.4,327.7Z" fill="#FFFFC8"/>
<path d="M287.1,273.6 L292.4,272.8 L292.4,275.4 L287.6,276.2Z" fill="#FFFFC8"/>
<path d="M321.4,290.7 L331.9,293.4 L333.3,297.3 L324.0,296.0Z" fill="#FFFFC8"/>
<path d="M353.0,327.7 L358.3,330.3 L360.9,340.8 L355.7,338.2Z" fill="#FFFFFF"/>
<path d="M420.0,252.5 L426.6,250.7 L424.0,259.1 L420.0,261.7Z" fill="#C6E2FF"/>
<path d="M442.4,182.6 L478.0,182.6 L476.7,185.3 L443.7,185.8Z" fill="#FFFFC8"/>
<path d="M513.6,383.0 L530.7,381.7 L532.1,388.3 L514.9,389.6Z" fill="#FFFFFF"/>
<path d="M153.3,553.3 L160.0,556.6 L164.9,566.6 L171.6,578.2 L178.2,588.1 L181.5,596.4 L185.7,599.8 L187.3,605.6 L181.5,606.4 L176.6,603.9 L169.9,601.4 L163.3,596.4 L156.6,589.8 L153.3,586.5Z" fill="#FFFFFF"/>
<path d="M153.3,553.3 L158.3,555.8 L161.6,563.2 L160.0,568.2 L156.6,564.9 L153.3,564.9Z" fill="#FFFFC8"/>
<path d="M155.0,575.7 L163.3,574.9 L167.4,583.2 L161.6,586.5 L155.0,583.2Z" fill="#C6E2FF"/>
<path d="M154.1,559.9 L160.0,559.1 L160.8,566.6 L155.0,567.4Z" fill="#C6E2FF"/>
<path d="M153.3,689.4 L156.6,692.7 L159.1,701.0 L155.0,699.3 L153.3,696.0Z" fill="#FFFFFF"/>
<path d="M741.0,320.0 L773.8,320.0 L773.8,332.3 L771.1,339.1 L771.1,351.4 L776.6,354.2 L782.0,358.3 L784.8,366.5 L790.2,374.7 L795.7,380.2 L801.2,378.8 L803.9,378.8 L802.5,385.6 L795.7,392.5 L784.8,391.8 L776.6,396.6 L771.1,400.7 L769.7,402.0 L757.4,399.3 L745.1,393.8 L734.2,388.4 L724.6,381.5 L730.1,372.0 L745.1,373.3 L747.9,365.1 L745.1,355.5 L734.2,346.0 L739.6,350.8 L745.1,343.2 L743.8,335.0 L741.0,328.2Z" fill="#FFFFFF"/>
<path d="M713.7,320.0 L741.0,320.0 L741.0,328.2 L743.8,335.0 L745.1,343.2 L739.6,350.8 L732.8,346.0 L727.3,336.4 L720.5,328.2Z" fill="#C6E2FF"/>
<path d="M771.1,351.4 L776.6,347.3 L782.0,344.6 L787.5,343.2 L793.0,347.3 L795.7,355.5 L794.3,365.1 L798.4,372.0 L801.2,378.8 L795.7,380.2 L790.2,374.7 L784.8,366.5 L782.0,358.3 L776.6,354.2Z" fill="#C6E2FF"/>
<path d="M750.6,341.9 L756.1,340.5 L758.8,343.2 L754.7,346.0 L750.9,345.3Z" fill="#C6E2FF"/>
<path d="M736.9,344.6 L743.8,343.9 L745.1,350.1 L739.6,351.4Z" fill="#C6E2FF"/>
<path d="M771.1,372.0 L776.6,370.6 L777.9,376.1 L772.5,377.4Z" fill="#C6E2FF"/>
<path d="M763.6,366.5 L766.3,366.5 L766.3,369.9 L763.6,369.9Z" fill="#C6E2FF"/>
<path d="M764.3,376.1 L767.0,376.1 L767.0,379.5 L764.3,379.5Z" fill="#C6E2FF"/>
<path d="M758.8,388.4 L765.6,385.6 L771.1,387.0 L773.8,395.2 L771.1,400.7 L764.3,399.3 L760.2,393.8Z" fill="#C6E2FF"/>
<path d="M732.8,380.2 L737.6,379.5 L738.3,382.9 L734.2,385.6Z" fill="#C6E2FF"/>
<path d="M713.7,393.8 L724.6,381.5 L734.2,388.4 L745.1,393.8 L757.4,398.6 L769.7,402.0 L776.6,396.6 L784.8,391.8 L795.7,392.5 L802.5,385.6 L803.9,378.8 L809.4,381.5 L813.5,388.4 L809.4,396.6 L808.0,402.0 L813.5,408.9 L816.2,415.7 L812.1,421.2 L803.9,423.9 L795.7,421.2 L790.2,418.4 L784.8,423.9 L779.3,426.6 L772.5,423.9 L762.9,421.2 L752.0,420.5 L745.1,423.9 L746.5,429.4 L745.1,434.8 L736.9,436.2 L730.1,433.5 L727.3,423.9 L723.2,415.7 L720.5,407.5 L715.0,399.3Z" fill="#C6E2FF"/>
<path d="M739.6,393.8 L743.8,393.1 L745.1,396.6 L741.0,397.9Z" fill="#FFFFFF"/>
<path d="M776.6,407.5 L782.0,406.1 L783.4,414.3 L778.6,415.7Z" fill="#FFFFFF"/>
<path d="M700.0,377.4 L708.2,380.2 L713.7,377.4 L721.9,378.8 L723.2,384.3 L713.7,393.8 L715.0,399.3 L720.5,407.5 L723.2,415.7 L727.3,423.9 L730.1,433.5 L727.3,437.6 L720.5,434.8 L713.7,433.5 L706.8,436.2 L700.0,440.3Z" fill="#C6E2FF"/>
<path d="M700.0,440.3 L706.8,436.2 L713.7,433.5 L720.5,434.8 L727.3,437.6 L728.7,450.0 L700.0,450.0Z" fill="#FFFFFF"/>
<path d="M745.1,423.9 L752.0,420.5 L762.9,421.2 L772.5,423.9 L779.3,426.6 L784.8,423.9 L790.2,418.4 L787.5,426.6 L782.0,429.4 L776.6,433.5 L771.1,437.6 L765.6,440.3 L760.2,443.1 L754.7,451.3 L732.8,451.3 L736.9,436.2 L745.1,434.8 L746.5,429.4Z" fill="#FFFFFF"/>
<path d="M809.4,396.6 L816.2,393.8 L823.1,391.1 L831.3,396.6 L836.7,400.7 L840.0,402.0 L840.0,418.4 L835.4,421.2 L834.0,429.4 L828.5,433.5 L817.6,434.8 L809.4,433.5 L806.6,429.4 L812.1,421.2 L816.2,415.7 L813.5,408.9 L808.0,402.0Z" fill="#FFFFFF"/>
<path d="M794.3,346.0 L802.5,343.2 L810.7,337.8 L817.6,333.7 L825.8,333.0 L836.7,337.8 L840.0,341.9 L840.0,385.6 L834.0,384.3 L828.5,380.2 L823.1,378.8 L817.6,380.2 L812.1,377.4 L806.6,374.7 L802.5,370.6 L798.4,365.1 L795.7,355.5Z" fill="#C6E2FF"/>
<path d="M808.0,347.3 L816.2,346.7 L817.6,352.8 L809.4,354.2Z" fill="#FFFFFF"/>
<path d="M820.3,343.2 L827.2,342.6 L827.8,348.7 L821.0,349.4Z" fill="#FFFFFF"/>
<path d="M828.5,365.1 L840.0,363.8 L840.0,377.4 L831.3,376.7Z" fill="#FFFFFF"/>
<path d="M823.1,354.2 L831.3,352.8 L835.4,358.3 L827.2,361.0Z" fill="#FFFFFF"/>
<path d="M321.2,291.2 L327.5,290.5 L332.2,293.6 L329.1,296.2 L322.8,295.2Z" fill="#FFFFC8"/>
<path d="M346.2,296.7 L350.2,297.5 L350.2,303.8 L346.6,303.0Z" fill="#FFFFC8"/>
<path d="M296.2,304.1 L304.1,304.5 L303.3,308.4 L297.0,307.7Z" fill="#FFFFC8"/>
<path d="M366.6,278.8 L371.2,279.1 L370.9,281.9 L366.9,281.6Z" fill="#FFFFC8"/>
<path d="M313.4,306.9 L318.1,307.7 L317.3,310.8 L313.8,310.0Z" fill="#FFFFC8"/>
<path d="M352.5,333.4 L358.8,334.2 L358.4,342.8 L352.8,342.0Z" fill="#FFFFFF"/>
<path d="M361.9,341.2 L366.6,341.6 L366.2,347.5 L362.2,347.2Z" fill="#FFFFFF"/>
<path d="M363.4,364.7 L367.3,365.0 L367.0,369.4 L363.8,369.1Z" fill="#FFFFFF"/>
<path d="M371.2,380.3 L375.2,380.6 L374.8,385.0 L371.6,384.7Z" fill="#FFFFFF"/>
<path d="M419.7,260.0 L415.0,264.7 L408.8,269.4 L404.1,274.1 L402.5,270.9 L407.2,266.2 L413.4,261.6 L416.6,260.0Z" fill="#C6E2FF"/>
<path d="M410.3,277.2 L407.2,283.4 L405.6,289.7 L403.3,288.1 L405.6,281.9 L408.0,277.2Z" fill="#C6E2FF"/>
<path d="M410.3,263.1 L415.0,262.3 L410.3,269.4 L407.2,270.9Z" fill="#FFFFFF"/>
<path d="M664.7,505.2 L667.0,495.8 L671.7,491.1 L677.6,485.2 L683.4,479.4 L688.1,474.7 L695.2,470.0 L709.2,470.0 L698.7,474.7 L690.5,481.7 L684.6,491.1 L682.3,500.5 L681.7,508.7 L681.1,519.2 L679.3,516.9 L676.4,511.0 L671.7,506.3 L667.0,502.8Z" fill="#A9D3FF"/>
<path d="M664.7,505.2 L667.0,502.8 L671.7,506.3 L674.1,509.8 L670.5,510.4 L666.4,507.5Z" fill="#FFFFFF"/>
<path d="M916.0,705.0 L927.9,693.1 L939.7,683.9 L939.7,705.0Z" fill="#FFFFFF"/>
<path d="M921.3,705.0 L930.5,695.8 L939.7,687.9 L939.7,705.0Z" fill="#C6E2FF"/>
<path d="M927.3,705.0 L933.7,698.4 L939.7,693.1 L939.7,705.0Z" fill="#3399FF"/>
<path d="M932.6,702.4 L936.3,698.9 L938.4,699.7 L937.9,703.1Z" fill="#00308F"/>
<g fill="none" stroke="#707070" stroke-opacity="0.22" stroke-width="0.55">
<path d="M220.2,162.5 L147.8,420"/>
<path d="M295.5,164 L170.5,724"/>
<path d="M370.6,164 L283.2,724"/>
<path d="M441.5,164 L393.1,724"/>
<path d="M516.7,164 L502.2,724"/>
<path d="M588.0,164 L610.6,724"/>
<path d="M661.8,164 L719.5,724"/>
<path d="M734.6,164 L830.3,724"/>
<path d="M812.3,164 L942.7,721"/>
<path d="M889.0,164 L945.0,324"/>
<path d="M50.9,148.8 L66.5,155.6 L82.3,162.2 L98.1,168.6 L114.0,174.8 L130.0,180.7 L146.0,186.5 L162.2,192.0 L178.4,197.2 L194.7,202.3 L211.0,207.1 L227.5,211.7 L244.0,216.0 L260.5,220.2 L277.1,224.0 L293.8,227.7 L310.5,231.1 L327.2,234.3 L344.0,237.3 L360.8,240.0 L377.7,242.5 L394.6,244.8 L411.6,246.8 L428.5,248.6 L445.5,250.1 L462.5,251.4 L479.5,252.5 L496.6,253.3 L513.6,253.9 L530.6,254.3 L547.7,254.4 L564.8,254.3 L581.8,253.9 L598.8,253.3 L615.9,252.5 L632.9,251.4 L649.9,250.1 L666.9,248.6 L683.8,246.8 L700.8,244.8 L717.7,242.5 L734.6,240.0 L751.4,237.3 L768.2,234.3 L784.9,231.1 L801.6,227.7 L818.3,224.0 L834.9,220.2 L851.4,216.0 L867.9,211.7 L884.4,207.1 L900.7,202.3 L917.0,197.2 L933.2,192.0 L949.4,186.5 L965.4,180.7 L981.4,174.8 L997.3,168.6 L1013.1,162.2 L1028.9,155.6 L1044.5,148.8"/>
<path d="M-4.3,272.8 L13.1,280.4 L30.5,287.7 L48.1,294.8 L65.8,301.7 L83.5,308.3 L101.4,314.6 L119.3,320.7 L137.4,326.6 L155.5,332.2 L173.6,337.5 L191.9,342.6 L210.2,347.5 L228.6,352.0 L247.0,356.4 L265.5,360.4 L284.1,364.3 L302.7,367.8 L321.4,371.1 L340.1,374.1 L358.8,376.9 L377.6,379.4 L396.4,381.6 L415.3,383.6 L434.1,385.3 L453.0,386.8 L471.9,388.0 L490.9,388.9 L509.8,389.6 L528.8,390.0 L547.7,390.1 L566.6,390.0 L585.6,389.6 L604.5,388.9 L623.5,388.0 L642.4,386.8 L661.3,385.3 L680.1,383.6 L699.0,381.6 L717.8,379.4 L736.6,376.9 L755.3,374.1 L774.0,371.1 L792.7,367.8 L811.3,364.3 L829.9,360.4 L848.4,356.4 L866.8,352.0 L885.2,347.5 L903.5,342.6 L921.8,337.5 L939.9,332.2 L958.0,326.6 L976.1,320.7 L994.0,314.6 L1011.9,308.3 L1029.6,301.7 L1047.3,294.8 L1064.9,287.7 L1082.3,280.4 L1099.7,272.8"/>
<path d="M-58.9,395.5 L-39.8,403.8 L-20.6,411.9 L-1.3,419.7 L18.1,427.2 L37.6,434.5 L57.2,441.4 L76.9,448.2 L96.7,454.6 L116.6,460.7 L136.6,466.6 L156.7,472.2 L176.8,477.5 L197.0,482.6 L217.3,487.3 L237.6,491.8 L258.0,496.0 L278.5,499.9 L299.0,503.5 L319.5,506.8 L340.1,509.9 L360.8,512.6 L381.5,515.1 L402.2,517.3 L422.9,519.2 L443.7,520.8 L464.4,522.1 L485.2,523.1 L506.1,523.8 L526.9,524.3 L547.7,524.4 L568.5,524.3 L589.3,523.8 L610.2,523.1 L631.0,522.1 L651.7,520.8 L672.5,519.2 L693.2,517.3 L713.9,515.1 L734.6,512.6 L755.3,509.9 L775.9,506.8 L796.4,503.5 L816.9,499.9 L837.4,496.0 L857.8,491.8 L878.1,487.3 L898.4,482.6 L918.6,477.5 L938.7,472.2 L958.8,466.6 L978.8,460.7 L998.7,454.6 L1018.5,448.2 L1038.2,441.4 L1057.8,434.5 L1077.3,427.2 L1096.7,419.7 L1116.0,411.9 L1135.2,403.8 L1154.3,395.5"/>
<path d="M-114.1,519.3 L-93.2,528.4 L-72.3,537.2 L-51.2,545.7 L-30.1,554.0 L-8.8,561.9 L12.6,569.5 L34.1,576.8 L55.7,583.8 L77.4,590.6 L99.2,597.0 L121.1,603.1 L143.1,608.9 L165.1,614.4 L187.2,619.6 L209.4,624.4 L231.7,629.0 L254.0,633.3 L276.4,637.2 L298.8,640.8 L321.3,644.2 L343.8,647.2 L366.3,649.9 L388.9,652.2 L411.6,654.3 L434.2,656.0 L456.9,657.5 L479.6,658.6 L502.3,659.4 L525.0,659.8 L547.7,660.0 L570.4,659.8 L593.1,659.4 L615.8,658.6 L638.5,657.5 L661.2,656.0 L683.8,654.3 L706.5,652.2 L729.1,649.9 L751.6,647.2 L774.1,644.2 L796.6,640.8 L819.0,637.2 L841.4,633.3 L863.7,629.0 L886.0,624.4 L908.2,619.6 L930.3,614.4 L952.3,608.9 L974.3,603.1 L996.2,597.0 L1018.0,590.6 L1039.7,583.8 L1061.3,576.8 L1082.8,569.5 L1104.2,561.9 L1125.5,554.0 L1146.6,545.7 L1167.7,537.2 L1188.6,528.4 L1209.5,519.3"/>
<path d="M106.0,25.1 L119.9,31.2 L133.9,37.1 L147.9,42.7 L162.1,48.2 L176.3,53.5 L190.6,58.6 L204.9,63.5 L219.3,68.2 L233.8,72.6 L248.4,76.9 L263.0,81.0 L277.6,84.9 L292.3,88.5 L307.1,92.0 L321.9,95.3 L336.8,98.3 L351.7,101.2 L366.6,103.8 L381.6,106.2 L396.6,108.4 L411.6,110.4 L426.6,112.2 L441.7,113.8 L456.8,115.2 L471.9,116.4 L487.1,117.3 L502.2,118.0 L517.4,118.6 L532.5,118.9 L547.7,119.0 L562.9,118.9 L578.0,118.6 L593.2,118.0 L608.3,117.3 L623.5,116.4 L638.6,115.2 L653.7,113.8 L668.8,112.2 L683.8,110.4 L698.8,108.4 L713.8,106.2 L728.8,103.8 L743.7,101.2 L758.6,98.3 L773.5,95.3 L788.3,92.0 L803.1,88.5 L817.8,84.9 L832.4,81.0 L847.0,76.9 L861.6,72.6 L876.1,68.2 L890.5,63.5 L904.8,58.6 L919.1,53.5 L933.3,48.2 L947.5,42.7 L961.5,37.1 L975.5,31.2 L989.4,25.1"/>
<path d="M-169.8,644.5 L-147.2,654.4 L-124.5,663.9 L-101.7,673.1 L-78.7,682.0 L-55.6,690.6 L-32.4,698.9 L-9.1,706.8 L14.3,714.4 L37.8,721.7 L61.5,728.7 L85.2,735.3 L109.0,741.6 L132.9,747.5 L156.9,753.2 L180.9,758.5 L205.1,763.4 L229.3,768.0 L253.5,772.3 L277.8,776.2 L302.2,779.8 L326.6,783.1 L351.1,786.0 L375.6,788.6 L400.1,790.8 L424.6,792.7 L449.2,794.2 L473.8,795.5 L498.4,796.3 L523.1,796.8 L547.7,797.0 L572.3,796.8 L597.0,796.3 L621.6,795.5 L646.2,794.2 L670.8,792.7 L695.3,790.8 L719.8,788.6 L744.3,786.0 L768.8,783.1 L793.2,779.8 L817.6,776.2 L841.9,772.3 L866.1,768.0 L890.3,763.4 L914.5,758.5 L938.5,753.2 L962.5,747.5 L986.4,741.6 L1010.2,735.3 L1033.9,728.7 L1057.6,721.7 L1081.1,714.4 L1104.5,706.8 L1127.8,698.9 L1151.0,690.6 L1174.1,682.0 L1197.1,673.1 L1219.9,663.9 L1242.6,654.4 L1265.2,644.5"/>
</g>
<g fill="none" stroke="#a6a6a6" stroke-width="0.6" stroke-linejoin="round">
<path d="M321.4,607.4 L323.7,607.8 L326.0,608.1 L328.1,609.1 L330.5,609.1 L332.6,610.1 L334.9,610.4 L337.2,610.7 L339.3,611.6 L341.7,611.7 L343.8,612.7 L343.7,610.3 L343.4,607.9 L343.4,605.5 L343.7,603.0 L344.1,600.6 L343.8,598.2 L344.8,596.4 L346.2,594.9 L347.9,593.5 L349.4,592.2 L350.4,590.3 L352.5,589.9 L354.6,589.2 L356.8,589.2 L358.7,587.8 L360.9,587.7 L362.9,586.2 L364.3,584.0 L366.2,582.4 L367.7,580.4 L369.5,578.6 L371.5,577.1 L373.4,576.6 L375.5,576.8 L377.4,575.8 L379.4,575.8 L380.9,577.2 L382.5,578.5 L384.2,579.7 L385.7,581.1 L387.3,582.4 L389.7,583.3 L391.8,584.7 L393.8,586.1 L395.7,587.8 L397.9,589.0 L399.6,590.6 L401.3,592.2 L402.7,594.0 L404.4,595.6 L404.8,597.9 L405.3,600.2 L405.2,602.5 L405.8,604.8 L407.0,606.2 L408.6,607.2 L409.7,608.7 L408.8,610.9 L407.9,613.1 L407.1,615.3 L408.5,616.9 L410.3,618.1 L412.2,619.1 L413.7,620.6 L415.7,621.3 L417.9,620.8 L420.0,621.4 L422.0,621.4 L423.9,621.9 L425.9,621.4 L427.9,621.9 L429.9,622.6 L432.0,622.8 L433.8,624.1 L435.8,624.6 L436.9,626.5 L438.4,628.1 L439.4,630.1 L441.2,631.5 L442.2,633.5 L443.7,635.1 L444.4,637.4 L445.1,639.6 L446.0,641.9 L446.4,644.2 L447.1,646.5 L448.3,648.6 L449.0,650.9 L450.2,652.8 L452.0,654.2 L452.8,656.3 L454.1,658.1 L455.2,660.0 L456.9,661.5 L458.5,663.1 L460.6,664.0 L462.3,665.4 L463.9,666.9 L466.0,667.7 L467.5,669.4 L469.3,670.7 L471.2,671.8 L473.0,673.0 L474.8,674.3 L476.1,676.2 L478.0,677.3 L479.8,678.6 L481.3,680.3 L482.8,682.0 L484.1,683.9 L485.9,685.2 L488.1,686.2 L489.9,687.8 L491.8,689.2 L493.8,690.5 L495.3,692.1 L497.1,693.4 L498.9,694.7 L501.0,695.6 L502.7,697.0 L504.4,698.4 L505.8,700.3 L506.7,702.6 L507.9,704.6 L509.6,706.3"/>
<path d="M251.5,706.3 L252.2,704.5 L253.2,702.8 L254.3,701.2 L255.5,699.7 L257.2,699.4 L259.0,699.7 L260.7,699.7 L262.9,699.4 L265.1,698.6 L267.2,697.9 L269.5,697.9 L271.7,697.4 L273.9,697.1 L276.1,697.6 L278.2,698.4 L280.5,698.6 L282.7,698.8 L284.9,699.4 L287.1,699.7 L289.3,698.8 L291.1,697.2 L293.6,696.9 L295.7,695.7 L297.7,694.4 L299.8,694.5 L301.9,694.2 L304.0,693.5 L306.1,693.3 L308.2,693.1 L310.3,693.0 L312.4,693.8 L314.6,693.4 L316.7,693.7 L318.7,694.4 L320.6,693.5 L322.6,692.8 L324.7,692.3 L326.7,691.8 L328.9,692.4 L330.9,693.4 L332.8,694.5 L334.6,695.8 L336.6,696.8 L338.1,698.3 L339.8,699.7 L341.5,701.1 L342.2,703.2 L343.7,704.7 L345.1,706.3"/>
<path d="M153.1,578.1 L155.1,576.9 L157.2,576.2 L159.3,575.5 L161.4,574.6 L163.4,573.6 L165.6,573.1 L167.7,572.2 L169.6,571.0 L171.2,569.4 L173.1,568.1 L175.0,566.9 L176.3,565.1 L178.1,563.8"/>
<path d="M554.4,681.9 L554.3,679.7 L554.8,677.7 L555.2,675.6 L556.9,674.1 L559.0,673.3 L560.6,671.7 L562.7,671.1 L564.7,670.7 L566.9,670.9 L568.7,670.2 L570.0,668.9 L571.6,667.8 L573.5,667.4 L575.5,667.8 L577.5,667.3 L579.4,667.8 L580.5,665.7 L581.9,663.9 L582.5,661.6 L583.8,660.2 L584.7,658.6 L585.6,656.9 L583.5,656.6 L581.4,656.0 L579.4,655.3 L581.4,654.5 L583.6,654.6 L585.6,653.8 L587.5,653.8 L589.5,654.1 L591.5,653.6 L593.4,653.8 L593.1,651.5 L593.4,649.1 L592.9,646.7 L591.9,644.4"/>
<path d="M593.4,663.1 L594.7,660.9 L595.0,658.4 L597.1,658.0 L599.0,657.1 L601.0,656.4 L602.8,655.3 L604.8,655.2 L606.6,654.3 L608.7,654.2 L610.6,653.8 L612.8,654.7 L615.0,655.4 L616.9,656.9 L618.4,658.8 L619.2,660.9 L620.0,663.1 L622.0,662.4 L624.2,662.3 L626.2,661.6 L627.8,660.3 L628.7,658.4 L630.0,656.9"/>
<path d="M557.5,685.0 L559.4,686.4 L561.5,687.5 L563.8,688.1 L565.8,689.1 L568.0,689.0 L570.0,689.7 L569.9,691.7 L569.5,693.7 L569.1,695.6 L568.4,697.5 L569.1,699.4 L569.1,701.4 L569.2,703.4 L570.0,705.3"/>
<path d="M610.3,615.6 L612.1,614.9 L613.4,613.5 L615.0,612.5 L616.5,613.7 L618.0,614.8 L619.7,615.6 L621.1,617.5 L621.6,619.9 L622.8,621.9 L624.6,623.1 L626.6,623.7 L628.6,624.5 L630.6,625.0 L632.7,624.4 L634.7,623.6 L636.9,623.4 L638.2,621.5 L638.8,619.2 L640.0,617.2 L641.4,618.3 L643.1,618.8 L643.7,620.6 L645.3,621.8 L646.2,623.4 L647.8,624.5 L649.1,626.1 L650.8,627.1 L652.5,628.1 L654.7,628.3 L656.8,628.8 L658.8,629.7 L660.9,629.9 L662.8,631.1 L665.0,631.2 L667.0,632.0 L669.2,631.9 L671.2,632.8 L669.4,634.5 L668.1,636.7 L666.3,637.1 L664.9,638.2 L663.4,639.1 L662.0,640.3 L660.3,641.1 L658.8,642.2 L658.3,643.9 L657.2,645.3 L654.7,645.0 L652.5,643.8 L651.0,645.7 L650.3,647.9 L649.4,650.0 L647.3,650.5 L645.1,650.6 L643.1,651.6 L641.0,651.1 L639.1,650.2 L636.9,650.0 L634.7,650.2 L632.8,651.3 L630.6,651.6 L631.9,653.6 L632.9,655.6 L633.8,657.8 L632.4,659.5 L630.6,660.9 L629.1,659.8 L627.3,659.0 L625.9,657.8 L623.6,658.7 L621.2,659.4 L620.8,661.9 L619.7,664.1 L618.4,662.6 L616.5,661.9 L614.9,660.6 L613.4,659.4 L611.4,658.8 L609.4,657.9 L607.2,657.8 L605.2,657.5 L603.4,656.6 L601.4,656.6 L599.4,656.2 L597.8,657.8 L596.2,659.3 L595.0,661.3 L593.1,662.5 L591.6,664.1 L590.0,665.6"/>
<path d="M808.8,579.4 L807.1,581.2 L805.4,582.9 L803.0,583.8 L801.5,585.9 L799.4,587.2 L797.5,588.8 L795.5,590.1 L793.7,591.8 L792.0,593.6 L790.0,595.0 L788.4,596.5 L786.9,598.1 L785.1,599.4 L783.8,601.2 L782.2,603.1 L780.0,604.3 L778.3,606.1 L776.4,607.7 L774.4,609.1 L772.4,610.1 L770.6,611.6 L768.7,612.8 L766.7,613.8 L765.0,615.3 L762.5,615.7 L760.3,616.9 L757.9,617.5 L755.6,618.4 L753.6,619.2 L751.7,620.0 L749.7,620.6 L747.8,621.6 L746.8,623.7 L745.7,625.7 L744.7,627.8 L744.2,629.9 L743.2,631.9 L743.1,634.1 L741.4,635.0 L739.8,635.9 L738.4,637.2 L735.9,637.6 L733.8,639.0 L731.4,639.5 L729.1,640.3 L727.6,638.4 L725.7,636.9 L723.6,635.6 L721.5,635.2 L719.7,634.1 L718.4,635.6 L716.6,636.5 L715.2,638.0 L713.4,638.8 L711.6,639.1 L709.8,639.2 L708.0,638.8 L707.0,640.8 L706.1,642.8 L705.6,645.0 L703.4,645.7 L701.6,647.4 L699.4,648.1 L697.4,648.8 L695.6,649.8 L693.9,651.2 L691.7,651.5 L690.0,652.8"/>
<path d="M690.0,637.5 L689.3,639.5 L689.7,641.7 L688.8,643.7 L689.0,645.8 L688.7,647.9 L688.4,650.0 L688.3,652.4 L688.9,654.8 L689.9,657.0 L690.0,659.4 L689.2,661.4 L688.2,663.4 L687.5,665.5 L686.7,667.5 L685.7,669.5 L684.5,671.3 L683.8,673.4 L685.3,675.3 L685.8,677.6 L686.9,679.7 L688.0,681.7 L689.4,683.6 L690.0,685.9 L691.2,687.4 L692.0,689.1 L693.1,690.6 L695.2,691.1 L697.4,691.2 L699.4,692.2 L701.6,692.1 L703.6,691.4 L705.6,690.6 L707.5,692.1 L710.0,692.4 L711.9,693.8 L712.6,695.8 L713.3,697.8 L713.4,700.0 L713.7,701.9 L714.7,703.6 L715.0,705.5"/>
<path d="M900.3,365.9 L902.4,366.4 L904.2,367.4 L906.0,368.7 L908.1,369.1 L909.0,370.8 L910.6,372.1 L911.9,373.5 L912.8,375.3 L914.6,376.5 L916.7,376.9 L918.6,377.8 L920.6,378.4 L922.7,378.8 L924.7,379.6 L926.4,381.0 L928.4,381.6 L930.8,382.4 L933.2,382.9 L935.3,384.6 L937.8,385.0"/>
<path d="M150.0,409.4 L151.7,410.4 L153.4,411.4 L155.3,412.0"/>
</g>
<g fill="none" stroke="#0000FF" stroke-width="1.4" stroke-linejoin="round">
<path d="M150.0,210.3 C154.7,211.9 155.5,212.0 165.8,215.6 C176.1,219.2 173.2,218.2 184.3,222.2 C195.4,226.2 194.0,225.0 202.7,228.8 C211.4,232.6 206.2,231.9 213.3,234.8 C220.4,237.7 218.6,234.0 226.5,238.5 C234.4,243.0 232.5,242.9 239.6,249.9 C246.7,256.9 244.6,256.2 250.2,261.7 C255.8,267.2 253.8,265.8 258.1,268.3 C262.5,270.9 261.5,268.2 264.7,270.2 C267.9,272.2 263.6,271.5 268.7,274.9 C273.8,278.3 273.9,277.5 281.8,281.5 C289.7,285.5 287.9,282.9 295.0,288.1 C302.1,293.3 298.5,292.4 305.6,298.7 C312.7,305.0 311.6,303.3 318.7,309.2 C325.8,315.1 325.3,313.7 329.3,318.4 C333.3,323.1 328.8,320.6 331.9,325.0 C335.0,329.4 334.2,327.7 339.8,332.9 C345.4,338.1 344.1,335.9 350.4,342.2 C356.7,348.5 355.4,348.1 360.9,354.0 C366.4,359.9 364.0,357.5 368.8,361.9 C373.6,366.2 371.2,364.1 376.8,368.5 C382.4,372.9 382.6,371.2 387.3,376.4 C392.0,381.6 388.6,380.5 392.6,385.7 C396.6,390.9 397.0,388.9 400.5,393.6 C404.0,398.3 403.0,394.4 404.4,401.5 C405.8,408.6 403.6,410.6 405.2,417.3 C406.8,424.0 405.3,421.4 409.7,423.9 C414.1,426.4 414.5,424.1 420.0,425.7 C425.5,427.3 422.3,425.8 427.9,429.2 C433.4,432.6 434.5,433.9 438.5,437.1 C442.5,440.3 434.8,437.1 441.1,440.0 C447.4,442.9 450.1,441.9 459.6,446.6 C469.1,451.3 464.8,449.9 472.7,455.8 C480.6,461.7 478.0,461.7 485.9,466.4 C493.8,471.1 491.2,469.6 499.1,471.6 C507.0,473.6 504.4,470.2 512.3,473.0 C520.2,475.8 517.6,477.4 525.5,480.9 C533.4,484.4 530.8,482.4 538.7,484.8 C546.6,487.2 543.1,486.4 551.8,488.8 C560.5,491.2 559.0,490.1 567.7,492.7 C576.4,495.3 573.7,494.3 580.8,497.5 C587.9,500.7 584.3,499.6 591.4,503.3 C598.5,507.0 595.9,505.9 604.6,509.9 C613.3,513.9 610.1,512.3 620.4,516.5 C630.7,520.7 627.7,520.6 638.8,523.8 C649.9,526.9 647.8,525.3 657.3,527.0 C666.8,528.7 662.6,527.1 670.5,529.6 C678.4,532.1 677.9,532.9 683.7,535.4 C689.6,537.9 688.0,536.3 690.0,538.1 C692.0,539.9 687.2,539.3 690.5,541.5 C693.8,543.7 694.8,543.7 701.1,545.5 C707.4,547.3 705.3,547.6 711.6,547.6 C717.9,547.6 716.7,548.5 722.2,545.5 C727.8,542.5 726.1,542.0 730.1,537.6 C734.1,533.2 730.7,533.4 735.4,531.0 C740.1,528.6 739.6,528.4 745.9,529.6 C752.2,530.8 750.2,533.7 756.5,534.9 C762.8,536.1 760.7,535.6 767.0,533.6 C773.3,531.6 770.5,530.7 777.6,528.3 C784.7,525.9 783.6,526.5 790.7,525.7 C797.8,524.9 795.8,524.9 801.3,525.7 C806.8,526.5 805.9,526.3 809.2,528.3 C812.5,530.3 813.2,529.5 812.4,532.3 C811.6,535.1 811.5,534.0 806.6,537.6 C801.7,541.2 802.3,540.3 796.0,544.2 C789.7,548.1 790.1,548.5 785.5,550.5 C780.9,552.5 782.9,551.4 780.5,551.0 C778.1,550.6 781.1,549.7 777.6,549.2 C774.1,548.7 774.4,549.0 768.9,549.2 C763.4,549.4 765.0,548.7 759.1,550.0 C753.2,551.3 755.1,550.6 749.3,553.4 C743.4,556.2 745.5,556.7 739.6,559.4 C733.8,562.1 735.6,561.1 729.8,562.3 C723.9,563.5 726.0,563.6 720.1,563.4 C714.2,563.2 714.2,561.7 710.3,561.7 C706.4,561.7 707.4,561.6 707.2,563.3 C707.0,564.9 707.6,565.3 709.5,567.2 C711.4,569.1 711.1,568.6 713.4,569.5 C715.7,570.4 715.5,569.1 717.3,570.3 C719.1,571.5 719.6,571.5 719.4,573.4 C719.2,575.3 719.8,575.2 716.6,576.6 C713.4,578.0 714.9,577.4 708.8,578.1 C702.7,578.8 703.7,578.2 696.2,578.9 C688.7,579.6 690.3,579.8 683.8,580.5 C677.3,581.2 680.5,580.8 674.4,581.2 C668.3,581.7 668.6,581.4 663.4,582.0 C658.2,582.6 659.3,581.5 657.2,583.1 C655.1,584.8 657.3,585.0 656.4,587.5 C655.5,590.0 656.7,589.5 654.1,591.4 C651.5,593.3 653.0,592.7 647.8,593.8 C642.6,594.9 643.5,594.5 636.9,595.0 C630.3,595.5 630.8,594.7 625.9,595.3 C621.0,595.9 622.8,594.6 620.5,596.9 C618.2,599.2 618.6,598.4 618.1,603.1 C617.6,607.8 619.1,607.8 618.9,612.5 C618.7,617.2 617.1,615.7 617.3,618.8 C617.5,621.9 617.6,621.3 619.7,622.7 C621.8,624.1 621.6,624.1 624.4,623.4 C627.2,622.7 626.3,622.6 629.1,620.3 C631.9,618.0 630.5,618.2 633.8,615.6 C637.1,613.0 636.3,613.5 640.0,611.7 C643.7,609.9 642.5,610.2 646.2,609.7 C650.0,609.2 648.7,609.4 652.5,610.2 C656.3,611.0 656.7,610.9 658.8,612.5 C660.9,614.1 658.1,613.7 659.5,615.6 C660.9,617.5 660.3,617.8 663.4,618.8 C666.5,619.8 665.5,617.9 669.7,618.8 C673.9,619.7 673.8,619.1 677.5,621.9 C681.2,624.7 680.3,623.9 682.2,628.1 C684.1,632.3 684.3,631.7 683.8,635.9 C683.3,640.1 683.4,638.9 680.6,642.2 C677.8,645.5 678.1,644.3 674.4,646.9 C670.6,649.5 672.8,648.5 668.1,650.8 C663.4,653.1 664.4,652.4 658.8,654.7 C653.2,657.0 654.6,656.5 649.4,658.6 C644.2,660.7 645.8,659.6 641.6,661.7 C637.4,663.8 639.5,663.3 635.3,665.6 C631.1,667.9 632.7,668.5 627.5,669.5 C622.3,670.5 623.7,668.3 618.1,668.8 C612.5,669.3 614.0,669.5 608.8,671.1 C603.6,672.7 604.7,672.1 600.9,674.2 C597.1,676.3 598.1,675.5 596.2,678.1 C594.3,680.7 594.0,680.5 594.7,682.8 C595.4,685.1 595.8,685.2 598.6,685.9 C601.4,686.6 600.6,686.1 604.1,685.2 C607.6,684.3 606.5,683.8 610.3,682.8 C614.0,681.8 613.1,681.5 616.6,682.0 C620.1,682.5 619.9,681.8 622.0,684.4 C624.1,687.0 623.4,686.9 623.6,690.6 C623.8,694.4 624.2,692.4 622.8,696.9 C621.4,701.4 620.1,702.9 618.9,705.5"/>
<path d="M150.0,274.1 C154.7,275.3 157.1,276.3 165.8,278.1 C174.5,279.9 171.1,278.8 179.0,280.2 C186.9,281.6 187.1,280.4 192.2,282.8 C197.3,285.2 194.1,284.1 196.1,288.1 C198.1,292.1 196.0,292.4 198.8,296.0 C201.6,299.6 199.5,298.0 205.4,300.0 C211.3,302.0 211.5,300.2 218.6,302.6 C225.7,305.0 222.0,304.7 229.1,307.9 C236.2,311.1 234.4,309.2 242.3,313.2 C250.2,317.2 249.2,317.2 255.5,321.1 C261.8,325.0 257.9,321.2 263.4,326.3 C268.9,331.4 266.8,331.5 273.9,338.2 C281.0,344.9 279.2,340.8 287.1,348.7 C295.0,356.6 292.4,354.3 300.3,364.6 C308.2,374.9 307.2,374.3 313.5,383.0 C319.8,391.7 316.7,387.3 321.4,393.6 C326.1,399.9 325.3,397.8 329.3,404.1 C333.3,410.4 331.0,407.6 334.6,414.7 C338.2,421.8 336.5,420.0 341.2,427.9 C345.9,435.8 345.7,434.4 350.4,441.0 C355.1,447.6 355.0,447.9 357.0,450.0 C359.0,452.1 356.6,446.9 357.0,447.9 C357.4,448.9 355.5,449.6 358.3,453.2 C361.1,456.8 361.5,456.3 366.2,459.8 C370.9,463.3 369.4,461.5 374.1,465.0 C378.8,468.5 378.0,468.4 382.0,471.6 C386.0,474.8 383.3,473.2 387.3,475.6 C391.3,478.0 390.5,477.2 395.2,479.6 C399.9,482.0 397.6,481.6 403.1,483.5 C408.7,485.4 408.6,483.3 413.7,486.1 C418.8,488.9 414.1,488.7 420.0,492.7 C425.9,496.7 425.3,494.5 433.2,499.3 C441.1,504.1 438.5,503.4 446.4,508.6 C454.3,513.8 451.7,511.8 459.6,516.5 C467.5,521.2 464.0,518.9 472.7,524.4 C481.4,529.9 479.1,528.6 488.6,534.9 C498.1,541.2 494.9,539.6 504.4,545.5 C513.9,551.4 510.7,550.0 520.2,554.7 C529.7,559.4 526.5,558.5 536.0,561.3 C545.5,564.1 543.9,561.9 551.8,563.9 C559.7,565.9 554.5,565.1 562.4,567.9 C570.3,570.7 569.5,570.4 578.2,573.2 C586.9,576.0 585.5,575.4 591.4,577.1 C597.3,578.8 594.2,576.3 597.8,578.9 C601.4,581.5 601.2,581.9 603.3,585.9 C605.4,589.9 605.3,588.5 604.8,592.2 C604.3,596.0 603.1,594.2 601.7,598.4 C600.3,602.6 600.2,601.0 600.2,606.2 C600.2,611.4 600.8,610.4 601.7,615.6 C602.6,620.8 602.6,618.7 603.3,623.4 C604.0,628.1 604.1,626.5 604.1,631.2 C604.1,635.9 602.8,635.6 603.3,639.1 C603.8,642.6 603.0,641.1 605.6,643.0 C608.2,644.9 608.1,645.1 611.9,645.3 C615.6,645.5 613.9,645.4 618.1,643.8 C622.3,642.1 620.7,642.2 625.9,639.8 C631.1,637.4 630.1,637.5 635.3,635.9 C640.5,634.3 638.4,634.9 643.1,634.4 C647.8,633.9 647.6,633.5 650.9,634.4 C654.2,635.3 653.4,635.2 654.1,637.5 C654.8,639.8 654.7,639.6 653.3,642.2 C651.9,644.8 652.5,644.3 649.4,646.1 C646.3,647.9 647.8,647.4 643.1,648.1 C638.4,648.8 639.4,647.8 633.8,648.4 C628.2,649.0 629.6,648.6 624.4,650.0 C619.2,651.4 620.8,650.8 616.6,653.1 C612.4,655.4 614.0,655.0 610.3,657.8 C606.5,660.6 607.9,659.9 604.1,662.5 C600.4,665.1 602.0,664.6 597.8,666.4 C593.6,668.2 595.5,667.7 590.0,668.4 C584.5,669.1 584.9,667.6 579.4,668.6 C573.9,669.6 575.4,669.4 571.6,671.7 C567.9,674.0 570.6,674.1 566.9,676.4 C563.1,678.7 563.1,677.4 559.1,679.5 C555.1,681.6 556.2,679.9 553.6,683.4 C551.0,686.9 552.1,687.0 550.5,691.2 C548.9,695.4 549.4,693.3 548.1,697.5 C546.8,701.7 546.8,703.0 546.2,705.3"/>
<path d="M559.4,705.3 C560.7,703.2 560.1,701.1 563.8,698.3 C567.5,695.5 566.9,697.0 571.6,695.9 C576.3,694.8 574.7,694.9 579.4,694.7 C584.1,694.5 582.5,694.4 587.2,695.2 C591.9,696.0 589.8,696.1 595.0,697.5 C600.2,698.9 599.7,698.4 604.4,699.8 C609.1,701.2 608.2,700.6 610.6,702.2 C613.0,703.9 611.9,704.4 612.5,705.3"/>
<path d="M687.7,650.0 C688.6,648.8 689.5,648.7 690.8,649.2 C692.1,649.7 692.1,650.2 691.9,651.6 C691.7,653.0 691.3,653.4 690.0,653.9 C688.7,654.4 688.4,654.3 687.7,653.1 C687.0,651.9 686.8,651.2 687.7,650.0Z"/>
<path d="M637.3,705.0 C637.5,704.2 637.2,703.1 638.1,702.3 C639.0,701.5 639.5,701.5 640.3,702.3 C641.1,703.1 640.7,704.2 640.9,705.0"/>
<path d="M150.0,343.5 C153.2,344.7 155.8,344.2 160.5,347.4 C165.2,350.5 161.8,350.8 165.8,354.0 C169.8,357.2 168.1,356.4 173.7,358.0 C179.2,359.6 178.0,358.7 184.3,359.3 C190.6,359.9 187.7,358.9 194.8,360.1 C201.9,361.3 200.1,360.8 208.0,363.3 C215.9,365.8 213.3,365.7 221.2,368.5 C229.1,371.3 226.5,369.3 234.4,372.5 C242.3,375.7 241.7,375.1 247.6,379.1 C253.5,383.1 251.0,381.3 254.2,385.7 C257.4,390.1 256.5,388.1 258.1,393.6 C259.7,399.1 259.0,397.0 259.4,404.1 C259.8,411.2 259.4,412.5 259.4,417.3 C259.4,422.1 259.9,417.3 259.4,420.0 C258.9,422.7 259.2,421.5 257.8,426.2 C256.4,430.9 256.6,430.0 254.7,435.6 C252.8,441.2 253.5,439.4 251.6,445.0 C249.7,450.6 251.2,448.8 248.4,454.4 C245.6,460.0 246.4,458.6 242.2,463.8 C238.0,469.0 239.6,467.6 234.4,471.6 C229.2,475.6 230.6,474.4 225.0,477.0 C219.4,479.6 221.2,478.6 215.6,480.2 C210.0,481.8 211.8,481.8 206.2,482.2 C200.6,482.6 202.0,482.8 196.9,481.7 C191.8,480.6 193.8,480.0 189.1,478.6 C184.4,477.2 185.9,477.0 181.2,477.0 C176.5,477.0 177.6,478.8 173.4,478.6 C169.2,478.4 170.5,478.3 167.2,476.2 C163.9,474.1 165.3,473.9 162.5,471.6 C159.7,469.3 161.1,469.1 157.8,468.4 C154.5,467.7 153.5,469.0 151.6,469.2"/>
<path d="M499.1,180.0 C498.3,182.4 500.5,184.3 496.5,187.9 C492.5,191.5 493.0,188.7 485.9,191.9 C478.8,195.1 479.8,193.4 472.7,198.5 C465.6,203.6 467.7,202.7 462.2,209.0 C456.7,215.3 458.1,212.5 454.3,219.6 C450.5,226.7 451.5,224.0 449.5,232.7 C447.5,241.4 448.2,239.9 447.7,248.6 C447.2,257.3 446.9,254.6 447.7,261.7 C448.5,268.8 448.7,267.1 450.3,272.3 C451.9,277.5 449.4,274.9 453.0,278.9 C456.6,282.9 456.3,281.5 462.2,285.5 C468.1,289.5 466.4,288.1 472.7,292.1 C479.0,296.1 477.0,294.8 483.3,298.7 C489.6,302.6 488.3,301.7 493.8,305.2 C499.3,308.7 497.3,307.1 501.7,310.5 C506.1,313.9 502.8,314.6 508.3,316.6 C513.9,318.6 514.7,315.8 520.2,317.1 C525.8,318.5 522.1,317.9 526.8,321.1 C531.5,324.3 530.9,324.8 536.0,327.7 C541.1,330.6 539.2,328.9 543.9,330.8 C548.6,332.8 548.5,332.0 551.8,334.2 C555.1,336.4 555.0,334.6 555.0,338.2 C555.0,341.8 552.3,342.1 551.8,346.1 C551.3,350.1 550.8,348.6 553.2,351.4 C555.6,354.2 555.4,353.6 559.7,355.3 C564.1,357.0 562.2,356.0 567.7,357.2 C573.2,358.4 571.9,356.7 578.2,359.3 C584.5,361.9 582.4,362.6 588.7,365.9 C595.0,369.2 593.0,368.6 599.3,370.4 C605.6,372.2 603.5,371.8 609.8,372.0 C616.1,372.2 614.1,371.7 620.4,371.2 C626.7,370.7 623.8,370.8 630.9,370.4 C638.0,370.0 638.6,369.2 644.1,369.8 C649.6,370.4 647.0,369.7 649.4,372.5 C651.8,375.3 649.6,376.3 652.0,379.1 C654.4,381.9 653.3,381.7 657.3,381.7 C661.3,381.7 660.5,380.7 665.2,379.1 C669.9,377.5 667.6,377.4 673.1,376.4 C678.6,375.3 678.6,375.6 683.7,375.6 C688.8,375.6 689.9,376.5 690.0,376.4 C690.1,376.2 683.9,375.1 684.0,375.1 C684.1,375.1 685.8,377.2 690.5,376.4 C695.2,375.6 695.4,372.5 699.8,372.5 C704.1,372.5 701.5,374.0 705.0,376.4 C708.5,378.8 707.2,380.0 711.6,380.4 C716.0,380.8 715.6,377.8 719.6,377.8 C723.6,377.8 720.9,378.0 724.8,380.4 C728.7,382.8 726.4,382.6 732.7,385.7 C739.0,388.8 738.0,387.4 745.9,390.9 C753.8,394.4 752.0,394.3 759.1,397.5 C766.2,400.7 764.1,401.5 769.6,401.5 C775.1,401.5 772.8,400.3 777.6,397.5 C782.4,394.7 779.2,394.3 785.5,392.3 C791.8,390.3 793.3,392.9 798.7,390.9 C804.1,388.9 801.8,390.1 803.4,385.7 C805.0,381.3 802.2,380.0 803.9,376.4 C805.6,372.8 805.2,376.2 809.2,373.8 C813.2,371.4 814.0,372.1 817.1,368.5 C820.2,364.9 819.1,366.2 819.7,361.9 C820.3,357.5 820.2,359.1 819.0,354.0 C817.8,348.9 818.0,349.5 815.8,344.8 C813.6,340.1 813.4,340.8 811.8,338.2 C810.2,335.6 810.0,338.9 810.5,336.2 C811.0,333.5 811.0,332.5 813.6,329.2 C816.2,325.9 815.6,327.6 819.1,325.3 C822.6,323.0 822.0,324.2 825.3,321.4 C828.6,318.6 826.7,318.5 830.0,315.9 C833.3,313.3 832.5,315.4 836.2,312.8 C840.0,310.2 839.2,309.6 842.5,307.3 C845.8,305.1 844.4,305.4 847.2,305.3 C850.0,305.2 848.9,305.8 851.9,306.9 C854.9,308.0 854.5,308.8 857.3,308.9 C860.1,309.0 858.4,309.2 861.2,307.3 C864.0,305.4 862.9,304.6 866.7,302.7 C870.5,300.8 869.3,302.3 873.8,301.1 C878.3,299.9 877.6,301.1 881.6,298.8 C885.6,296.5 884.2,297.1 887.0,293.3 C889.8,289.5 888.3,289.7 890.9,286.2 C893.5,282.7 893.0,284.9 895.6,281.6 C898.2,278.3 898.1,279.1 899.5,275.3 C900.9,271.6 900.8,273.1 900.3,269.1 C899.8,265.1 900.3,265.8 898.0,262.0 C895.7,258.2 895.8,260.1 892.5,256.6 C889.2,253.1 888.9,254.1 887.0,250.3 C885.1,246.6 887.4,247.4 886.2,244.1 C885.0,240.8 885.9,242.2 883.1,239.4 C880.3,236.6 880.6,238.0 876.9,234.7 C873.1,231.4 873.9,232.6 870.6,228.4 C867.3,224.2 869.2,225.0 865.9,220.6 C862.6,216.2 863.9,217.3 859.7,213.6 C855.5,209.8 856.6,211.4 851.9,208.1 C847.2,204.8 848.3,206.4 844.1,202.7 C839.9,198.9 840.4,199.8 837.8,195.6 C835.2,191.4 835.3,193.3 835.5,188.6 C835.7,183.9 837.7,182.6 838.6,180.0"/>
<path d="M881.6,213.6 C882.3,212.1 882.5,212.0 883.9,212.3 C885.3,212.6 885.5,212.9 886.2,214.7 C886.9,216.5 886.9,216.9 886.2,218.3 C885.5,219.7 885.3,219.7 883.9,219.4 C882.5,219.1 882.3,218.9 881.6,217.2 C880.9,215.5 880.9,215.1 881.6,213.6Z"/>
<path d="M889.4,221.4 C890.2,220.0 890.4,219.8 892.5,219.8 C894.6,219.8 894.3,220.0 896.4,221.4 C898.5,222.8 898.1,223.0 899.5,224.5 C900.9,226.0 899.5,226.8 901.1,226.4 C902.8,226.0 902.9,224.3 905.0,223.0 C907.1,221.7 906.2,221.7 908.1,221.9 C910.0,222.1 909.9,221.9 911.2,223.8 C912.5,225.8 912.1,224.2 912.5,228.4 C912.9,232.6 913.8,234.6 912.5,237.8 C911.2,241.0 910.8,238.9 908.1,239.1 C905.4,239.3 906.2,239.0 903.4,238.6 C900.6,238.2 901.4,239.2 898.8,237.8 C896.2,236.4 896.9,236.5 894.8,233.9 C892.7,231.3 893.2,232.0 891.7,229.2 C890.2,226.4 890.5,226.8 889.8,224.5 C889.1,222.2 888.6,222.8 889.4,221.4Z"/>
<path d="M919.1,180.0 C920.7,181.9 922.4,182.9 924.5,186.2 C926.6,189.5 925.6,187.6 926.1,190.9 C926.6,194.2 925.4,193.9 926.1,197.2 C926.8,200.5 926.1,199.9 928.4,201.9 C930.7,203.9 931.3,202.6 933.9,203.8 C936.5,205.0 935.7,203.6 937.0,205.8 C938.3,208.0 937.8,209.6 938.1,211.2"/>
<path d="M902.7,180.8 C903.4,181.7 903.4,183.9 905.0,183.9 C906.6,183.9 907.2,181.7 908.1,180.8"/>
<path d="M938.6,276.1 C936.7,277.3 935.4,277.9 932.3,280.0 C929.2,282.1 930.0,280.3 928.4,283.1 C926.8,285.9 928.3,286.5 926.9,289.4 C925.5,292.3 925.7,292.1 923.8,292.8 C921.9,293.5 922.5,293.0 920.6,291.7 C918.7,290.4 919.4,290.0 917.5,288.6 C915.6,287.2 916.5,286.8 914.4,287.0 C912.3,287.2 912.4,287.3 910.5,289.4 C908.6,291.5 908.7,290.8 908.1,294.1 C907.5,297.4 907.5,296.1 908.4,300.3 C909.3,304.5 909.4,303.9 911.2,308.1 C913.0,312.3 912.5,310.6 914.4,314.4 C916.3,318.1 915.6,317.1 917.5,320.6 C919.4,324.1 918.3,323.0 920.6,326.1 C922.9,329.2 922.0,328.2 925.3,330.8 C928.6,333.4 927.6,332.8 931.6,334.7 C935.6,336.6 936.5,336.3 938.6,337.0"/>
<path d="M248.1,180.0 C250.3,183.6 249.3,185.6 255.5,191.9 C261.7,198.2 260.0,195.6 268.7,201.1 C277.4,206.6 278.2,205.6 284.5,210.3 C290.8,215.0 282.6,210.6 289.7,216.9 C296.8,223.2 297.9,223.5 308.2,231.4 C318.5,239.3 316.9,237.4 324.0,243.3 C331.1,249.2 325.6,246.5 331.9,251.2 C338.2,255.9 339.6,253.6 345.1,259.1 C350.7,264.6 346.4,264.1 350.4,269.6 C354.4,275.2 353.6,273.4 358.3,277.6 C363.0,281.8 361.5,282.8 366.2,283.6 C370.9,284.4 369.4,282.7 374.1,280.2 C378.8,277.7 376.4,276.4 382.0,275.4 C387.6,274.4 388.2,275.2 392.6,277.0 C397.0,278.8 396.1,278.2 396.5,281.5 C396.9,284.8 393.5,285.3 393.9,288.1 C394.3,290.9 395.5,291.1 397.9,290.7 C400.3,290.3 400.1,284.4 401.8,286.8 C403.5,289.2 403.5,292.0 403.7,298.7 C403.9,305.4 404.0,303.7 402.6,309.2 C401.2,314.7 399.4,311.6 399.2,317.1 C399.0,322.7 399.4,322.6 401.8,327.7 C404.2,332.8 403.5,331.7 407.1,334.2 C410.7,336.7 409.8,335.5 413.7,336.1 C417.6,336.7 415.7,335.1 420.0,336.1 C424.3,337.1 422.3,336.1 427.9,339.5 C433.4,342.9 432.2,342.7 438.5,347.4 C444.8,352.1 443.5,350.9 449.0,355.3 C454.5,359.7 451.8,357.9 456.9,361.9 C462.0,365.9 460.6,364.1 466.1,368.5 C471.7,372.9 469.5,371.2 475.4,376.4 C481.3,381.6 479.6,381.3 485.9,385.7 C492.2,390.1 489.4,388.7 496.5,390.9 C503.6,393.1 501.7,391.6 509.6,393.0 C517.5,394.4 515.7,394.3 522.8,395.7 C529.9,397.1 527.9,397.4 533.4,397.5 C538.9,397.6 536.6,395.8 541.3,396.2 C546.0,396.6 544.5,397.2 549.2,398.8 C553.9,400.4 552.8,398.3 557.1,401.5 C561.5,404.7 560.5,404.7 563.7,409.4 C566.9,414.1 564.1,412.9 567.7,417.3 C571.3,421.7 570.5,420.3 575.6,423.9 C580.7,427.5 578.9,426.6 584.8,429.2 C590.7,431.8 587.8,431.0 595.3,432.6 C602.8,434.2 600.7,433.6 609.8,434.4 C618.9,435.2 617.8,435.2 625.7,435.2 C633.6,435.2 630.7,435.0 636.2,434.4 C641.7,433.8 639.4,432.3 644.1,433.1 C648.8,433.9 648.0,433.9 652.0,437.1 C656.0,440.3 655.3,439.8 657.3,443.7 C659.3,447.6 658.6,445.6 658.6,450.0 C658.6,454.4 656.9,453.6 657.3,458.5 C657.7,463.4 657.9,462.0 659.9,466.4 C661.9,470.8 660.7,469.0 663.9,473.0 C667.1,477.0 667.5,476.1 670.5,479.6 C673.5,483.1 670.9,482.9 674.0,484.6 C677.1,486.3 677.1,485.8 681.0,485.3 C684.9,484.8 687.3,483.9 687.0,483.0 C686.7,482.1 678.1,483.2 680.0,482.2 C681.9,481.2 685.3,480.8 693.2,479.6 C701.1,478.4 698.5,478.4 706.4,478.2 C714.3,478.0 711.7,478.2 719.6,479.0 C727.5,479.8 724.8,479.9 732.7,480.9 C740.6,481.9 738.8,482.6 745.9,482.2 C753.0,481.8 751.0,482.8 756.5,479.6 C762.0,476.4 760.0,477.2 764.4,471.6 C768.8,466.1 767.5,467.4 771.0,461.1 C774.5,454.8 774.6,453.8 776.2,450.5 C777.8,447.2 775.0,453.2 776.2,450.0 C777.4,446.8 776.6,445.6 780.2,439.7 C783.8,433.8 782.6,434.5 788.1,430.5 C793.6,426.5 791.6,427.9 798.7,426.5 C805.8,425.1 804.7,425.7 811.8,425.7 C818.9,425.7 815.3,425.8 822.4,426.5 C829.5,427.2 827.7,427.7 835.6,427.9 C843.5,428.1 840.0,428.1 848.7,427.3 C857.4,426.5 855.9,427.0 864.6,425.2 C873.3,423.4 871.5,423.3 877.8,421.3 C884.1,419.3 881.0,420.6 885.7,418.6 C890.4,416.6 889.2,417.5 893.6,414.7 C898.0,411.9 896.7,413.0 900.2,409.4 C903.7,405.8 905.0,406.8 905.4,402.8 C905.8,398.8 905.0,399.0 901.5,396.2 C898.0,393.4 898.3,395.2 893.6,393.6 C888.9,392.0 890.4,391.3 885.7,390.9 C881.0,390.5 882.6,391.3 877.8,392.3 C873.0,393.3 874.6,393.7 869.8,394.1 C865.0,394.5 866.2,395.0 861.9,393.6 C857.5,392.2 858.6,392.4 855.3,389.6 C852.0,386.8 850.9,387.1 850.9,384.3 C850.9,381.5 851.2,382.8 855.3,380.4 C859.4,378.0 858.7,378.4 864.6,376.4 C870.5,374.4 869.2,376.2 875.1,373.8 C881.0,371.4 880.3,372.1 884.3,368.5 C888.3,364.9 888.3,365.4 888.3,361.9 C888.3,358.4 887.1,359.5 884.3,356.7 C881.5,353.9 878.7,354.3 879.1,352.7 C879.5,351.1 880.6,352.6 885.7,351.4 C890.8,350.2 889.9,348.7 896.2,348.7 C902.5,348.7 901.2,350.2 906.8,351.4 C912.3,352.6 910.0,353.5 914.7,352.7 C919.4,351.9 917.9,351.5 922.6,348.7 C927.3,345.9 925.4,346.8 930.5,343.5 C935.6,340.2 936.9,339.4 939.7,337.7"/>
<path d="M421.6,540.7 C417.6,539.4 415.5,538.7 408.4,536.2 C401.3,533.7 404.2,533.9 397.9,532.3 C391.6,530.7 392.9,530.2 387.3,531.0 C381.8,531.8 383.4,534.9 379.4,534.9 C375.4,534.9 377.3,533.8 374.1,531.0 C370.9,528.2 373.5,528.1 368.8,525.7 C364.1,523.3 364.6,523.7 358.3,523.1 C352.0,522.5 354.1,522.2 347.8,523.8 C341.5,525.4 345.1,526.6 337.2,528.3 C329.3,530.0 330.1,528.8 321.4,529.6 C312.7,530.4 316.1,530.0 308.2,531.0 C300.3,532.0 301.3,531.0 295.0,532.8 C288.7,534.6 291.8,534.4 287.1,537.0 C282.4,539.6 284.7,539.3 279.2,541.5 C273.7,543.7 273.8,542.2 268.7,544.2 C263.6,546.2 265.1,545.0 262.1,548.1 C259.1,551.2 259.4,551.1 258.6,554.7 C257.8,558.3 260.7,556.4 259.4,560.0 C258.1,563.6 257.7,561.5 254.2,566.6 C250.7,571.7 251.2,570.0 247.6,577.1 C244.0,584.2 244.5,581.6 242.3,590.3 C240.1,599.0 240.8,596.6 240.4,606.1 C240.0,615.6 240.0,613.2 241.0,621.9 C242.0,630.6 241.2,627.2 243.6,635.1 C246.0,643.0 245.3,640.8 248.9,648.3 C252.5,655.8 251.2,653.9 255.5,660.2 C259.8,666.5 258.7,664.3 263.4,669.4 C268.1,674.5 265.8,672.9 271.3,677.3 C276.8,681.6 275.5,680.7 281.8,683.9 C288.1,687.1 286.1,685.9 292.4,687.9 C298.7,689.9 297.4,688.9 302.9,690.5 C308.4,692.1 307.5,690.7 310.8,693.1 C314.1,695.5 314.4,694.4 314.0,698.4 C313.6,702.4 310.9,703.9 309.5,706.3"/>
<path d="M420.0,540.2 C423.1,542.6 423.4,542.6 430.5,548.1 C437.6,553.6 436.6,552.4 443.7,558.7 C450.8,565.0 448.0,563.7 454.3,569.2 C460.6,574.7 459.4,571.0 464.8,577.1 C470.2,583.2 468.9,583.6 472.3,589.7 C475.7,595.8 473.1,593.5 476.2,597.5 C479.3,601.5 478.7,599.7 482.5,603.0 C486.3,606.3 486.6,605.1 488.8,608.4 C491.1,611.7 490.4,610.4 490.0,613.9 C489.6,617.4 487.9,616.7 487.5,620.2 C487.1,623.7 486.6,623.5 488.8,625.6 C491.1,627.7 490.8,626.5 495.0,627.2 C499.2,627.9 498.6,626.8 502.8,628.0 C507.0,629.2 505.8,628.5 509.1,631.1 C512.4,633.7 512.4,633.1 513.8,636.6 C515.2,640.1 514.4,639.3 513.8,642.8 C513.2,646.3 511.7,644.5 511.9,648.3 C512.1,652.0 512.5,651.3 514.5,655.3 C516.5,659.3 515.8,658.1 518.4,661.6 C521.0,665.1 519.8,665.1 523.1,667.0 C526.4,668.9 526.6,667.1 529.4,667.8 C532.2,668.5 531.1,667.1 532.5,669.4 C533.9,671.7 532.2,672.3 534.1,675.6 C536.0,678.9 536.0,677.7 538.8,680.3 C541.6,682.9 542.2,681.4 543.4,684.2 C544.6,687.0 544.1,686.2 542.7,689.7 C541.3,693.2 541.0,691.2 538.8,695.9 C536.6,700.6 536.3,702.5 535.3,705.3"/>
<path d="M417.4,602.2 C418.2,604.2 417.6,602.8 420.0,608.7 C422.4,614.6 422.9,614.0 425.3,621.9 C427.7,629.8 425.9,626.4 427.9,635.1 C429.9,643.8 429.5,642.2 431.9,650.9 C434.3,659.6 433.0,656.2 435.8,664.1 C438.6,672.0 438.3,670.2 441.1,677.3 C443.9,684.4 443.4,682.0 445.0,687.9 C446.6,693.8 446.4,691.6 446.4,697.1 C446.4,702.6 445.4,703.5 445.0,706.3"/>
<path d="M421.6,611.4 C419.2,607.4 419.2,606.1 413.7,598.2 C408.1,590.3 409.4,592.1 403.1,585.0 C396.8,577.9 398.9,579.2 392.6,574.5 C386.3,569.8 389.9,571.8 382.0,569.2 C374.1,566.7 375.7,566.0 366.2,566.0 C356.7,566.0 359.9,569.0 350.4,569.2 C340.9,569.4 342.9,569.4 334.6,566.6 C326.3,563.8 329.0,561.2 322.7,560.0 C316.4,558.8 319.4,559.8 313.5,562.6 C307.6,565.4 307.6,565.6 302.9,569.2 C298.2,572.8 299.7,569.8 297.7,574.5 C295.7,579.2 297.9,579.5 296.3,585.0 C294.7,590.5 294.5,588.2 292.4,592.9 C290.3,597.6 289.6,595.2 289.2,600.8 C288.8,606.3 291.3,604.3 291.1,611.4 C290.9,618.5 289.6,616.7 288.4,624.6 C287.2,632.5 289.5,632.3 287.1,637.8 C284.7,643.3 282.7,639.1 280.5,643.0 C278.3,646.9 278.9,646.5 279.7,650.9 C280.5,655.2 279.4,654.7 283.2,657.5 C287.0,660.3 286.5,661.0 292.4,660.2 C298.3,659.4 296.6,656.5 302.9,654.9 C309.2,653.3 307.9,652.9 313.5,654.9 C319.1,656.9 316.7,656.4 321.4,661.5 C326.1,666.6 329.3,668.5 329.3,672.0 C329.3,675.5 324.2,671.3 321.4,673.3 C318.6,675.3 318.5,674.2 320.1,678.6 C321.7,683.0 322.3,682.7 326.7,687.9 C331.1,693.1 330.2,690.3 334.6,695.8 C339.0,701.3 339.2,703.1 341.2,706.3"/>
<path d="M150.0,521.7 C152.8,524.9 154.8,525.2 159.2,532.3 C163.5,539.4 161.7,537.6 164.5,545.5 C167.3,553.4 166.1,550.8 168.5,558.7 C170.9,566.6 169.6,564.7 172.4,571.8 C175.2,578.9 174.9,576.1 177.7,582.4 C180.5,588.7 180.8,587.4 181.6,592.9 C182.4,598.4 182.3,597.5 180.3,600.8 C178.3,604.1 178.5,603.8 175.0,604.0 C171.5,604.2 172.4,603.5 168.5,601.4 C164.6,599.3 165.5,599.8 161.9,596.9 C158.3,594.0 160.2,594.4 156.6,591.6 C153.0,588.8 152.0,588.9 150.0,587.7"/>
<path d="M151.3,636.4 C152.5,640.0 154.3,641.6 155.3,648.3 C156.3,655.0 155.9,654.4 154.7,658.8 C153.5,663.1 152.3,661.6 151.3,662.8"/>
<path d="M698.6,637.2 C698.8,634.4 699.0,636.5 702.5,635.6 C706.0,634.7 705.6,635.7 710.3,634.1 C715.0,632.5 713.4,633.3 718.1,630.2 C722.8,627.1 721.7,627.4 725.9,623.9 C730.1,620.4 729.6,621.9 732.2,618.4 C734.8,614.9 734.5,615.7 734.5,612.2 C734.5,608.7 734.8,609.5 732.2,606.7 C729.6,603.9 728.5,604.9 725.9,602.8 C723.3,600.7 723.8,601.8 723.6,599.7 C723.4,597.6 723.1,597.4 725.2,595.8 C727.3,594.1 726.2,594.4 730.6,594.2 C735.0,594.0 734.4,595.2 740.0,595.0 C745.6,594.8 743.8,595.0 749.4,593.4 C755.0,591.8 753.2,592.3 758.8,589.5 C764.4,586.7 762.5,587.4 768.1,584.1 C773.7,580.8 772.3,581.7 777.5,578.6 C782.7,575.5 781.1,576.2 785.3,573.9 C789.5,571.6 788.4,572.2 791.6,570.8 C794.8,569.4 790.4,569.9 795.9,569.1 C801.4,568.3 802.5,567.8 810.0,568.0 C817.5,568.2 818.0,567.2 820.9,569.7 C823.8,572.2 821.5,571.9 819.7,576.2 C817.9,580.5 818.1,580.3 815.0,584.1 C811.9,587.9 812.3,587.4 809.5,588.8 C806.7,590.2 807.9,589.8 805.6,588.8 C803.3,587.8 804.3,587.2 801.7,585.6 C799.1,584.0 799.8,583.5 797.0,583.3 C794.2,583.1 794.2,582.9 792.3,584.8 C790.4,586.7 792.2,586.2 790.8,589.5 C789.4,592.8 790.3,592.3 787.7,595.8 C785.1,599.3 785.7,597.7 782.2,601.2 C778.7,604.7 780.1,603.5 775.9,607.5 C771.7,611.5 772.8,611.0 768.1,614.5 C763.4,618.0 765.0,617.1 760.3,619.2 C755.6,621.3 756.0,620.2 752.5,621.6 C749.0,623.0 750.1,621.6 748.6,623.9 C747.1,626.2 748.7,626.3 747.5,629.4 C746.3,632.5 747.4,631.8 744.7,634.1 C742.0,636.4 742.6,635.8 738.4,637.2 C734.2,638.6 735.0,638.6 730.6,638.8 C726.2,639.0 727.1,638.5 723.6,638.0 C720.1,637.5 721.5,636.5 718.9,637.2 C716.3,637.9 717.1,637.5 715.0,640.3 C712.9,643.1 714.0,643.3 711.9,646.6 C709.8,649.9 710.1,650.0 708.0,651.2 C705.9,652.4 706.7,652.4 704.8,650.5 C702.9,648.6 703.6,649.0 701.7,645.0 C699.8,641.0 698.4,640.0 698.6,637.2Z"/>
<path d="M939.7,550.7 C937.7,549.8 937.5,548.4 933.1,547.6 C928.8,546.8 928.7,546.8 925.2,548.1 C921.7,549.5 921.7,549.7 921.3,552.1 C920.9,554.5 921.9,553.2 923.9,556.0 C925.9,558.8 927.5,558.3 927.9,561.3 C928.3,564.3 928.4,564.8 925.2,566.0 C922.0,567.2 923.6,565.8 917.3,565.2 C911.0,564.6 912.0,563.5 904.1,563.9 C896.2,564.3 898.0,564.2 890.9,566.6 C883.8,569.0 892.7,568.2 880.4,571.8 C868.1,575.4 862.1,575.4 850.0,578.6 C837.9,581.8 845.8,579.4 840.0,582.5 C834.2,585.6 835.8,585.3 830.6,588.8 C825.4,592.3 827.5,591.9 822.8,594.2 C818.1,596.5 819.7,595.8 815.0,596.6 C810.3,597.4 811.9,596.4 807.2,596.9 C802.5,597.4 803.1,596.8 799.4,598.1 C795.6,599.4 796.6,598.4 794.7,601.2 C792.8,604.0 792.6,604.7 793.1,607.5 C793.6,610.3 794.1,609.2 796.2,610.6 C798.3,612.0 798.6,610.6 800.2,612.2 C801.9,613.9 801.9,613.8 801.7,616.1 C801.5,618.4 802.0,618.1 799.4,620.0 C796.8,621.9 796.9,620.0 793.1,622.3 C789.4,624.6 790.6,624.7 786.9,627.8 C783.1,630.9 784.4,630.2 780.6,632.5 C776.9,634.8 778.1,634.3 774.4,635.6 C770.6,636.9 771.9,636.9 768.1,636.9 C764.4,636.9 765.2,635.8 761.9,635.6 C758.6,635.5 761.0,635.0 757.2,636.4 C753.5,637.8 754.1,637.7 749.4,640.3 C744.7,642.9 746.3,642.7 741.6,645.0 C736.9,647.3 738.0,646.2 733.8,648.1 C729.6,650.0 730.8,648.9 727.5,651.2 C724.2,653.5 725.4,653.8 722.8,655.9 C720.2,658.0 721.5,657.1 718.9,658.3 C716.3,659.5 716.1,658.1 714.2,659.8 C712.3,661.4 712.2,660.7 712.7,663.8 C713.2,666.9 713.2,666.3 715.8,670.0 C718.3,673.7 717.2,672.9 721.2,676.2 C725.2,679.5 724.4,678.1 729.1,680.9 C733.8,683.7 732.7,682.9 736.9,685.6 C741.1,688.3 738.8,686.5 743.1,690.0 C747.4,693.5 749.4,691.8 751.2,697.1 C753.0,702.4 749.7,704.5 749.1,707.6"/>
<path d="M644.7,705.5 C644.5,702.4 643.4,700.9 643.9,695.3 C644.4,689.7 644.1,691.6 646.2,686.7 C648.3,681.8 647.6,682.9 650.9,678.9 C654.2,674.9 653.0,676.0 657.2,673.4 C661.4,670.8 659.8,672.2 665.0,670.3 C670.2,668.4 668.8,669.0 674.4,667.2 C680.0,665.4 679.1,665.4 683.8,664.4 C688.5,663.4 686.3,663.5 690.0,663.8 C693.7,664.1 692.0,663.7 696.2,665.3 C700.4,666.9 699.9,666.6 704.1,669.2 C708.3,671.8 706.8,670.8 710.3,673.9 C713.8,677.0 713.0,675.9 715.8,679.4 C718.6,682.9 715.7,683.4 719.7,685.6 C723.7,687.8 724.7,685.2 729.1,686.7 C733.5,688.2 732.4,687.5 734.5,690.6 C736.6,693.7 736.6,692.4 736.1,696.9 C735.6,701.4 733.9,702.9 733.0,705.5"/>
<path d="M919.9,587.7 C920.1,583.0 920.4,583.5 922.1,581.1 C923.8,578.7 924.1,577.7 925.7,579.7 C927.3,581.7 927.4,582.9 927.3,587.7 C927.1,592.5 927.0,592.8 925.2,595.6 C923.4,598.4 922.9,599.3 921.3,596.9 C919.7,594.5 919.7,592.4 919.9,587.7Z"/>
<path d="M871.2,608.7 C871.2,605.6 870.0,605.9 875.1,603.5 C880.2,601.1 881.3,602.0 888.3,600.8 C895.3,599.6 894.5,597.1 898.3,599.5 C902.1,601.9 900.4,602.0 901.0,608.7 C901.6,615.4 901.6,616.5 900.2,621.9 C898.8,627.3 899.8,625.9 896.2,626.7 C892.6,627.5 893.0,626.8 888.3,624.6 C883.6,622.4 884.4,622.5 880.4,619.3 C876.4,616.1 877.9,617.2 875.1,614.0 C872.3,610.8 871.2,611.9 871.2,608.7Z"/>
<path d="M939.7,578.4 C937.7,575.6 934.7,574.7 933.1,569.2 C931.5,563.7 932.4,564.0 934.4,560.0 C936.4,556.0 938.1,557.2 939.7,556.0"/>
<path d="M909.4,706.3 C913.4,702.7 913.5,700.7 922.6,694.4 C931.7,688.1 934.6,688.0 939.7,685.2"/>
<path d="M926.5,706.3 L939.7,691.8"/>
</g>
<g fill="none" stroke="#2a2a2a" stroke-width="1.6" stroke-linejoin="round" stroke-linecap="round">
<path d="M219.9,448.9 L217.9,448.6 L216.6,446.7 L214.6,446.3 L212.1,444.8 L210.6,442.4 L209.7,440.3 L207.9,438.9 L206.7,437.1 L208.6,438.2 L210.2,439.8 L212.0,441.0 L214.3,440.2 L215.9,438.4 L214.9,436.5 L214.6,434.4 L213.5,432.4 L213.4,430.1 L212.8,427.9 L212.6,425.2 L212.5,422.5 L213.3,419.9 L211.1,419.7 L209.3,418.6 L207.8,417.1 L207.2,415.3 L206.7,413.3 L204.5,411.6 L202.7,409.4 L200.6,408.7 L198.9,407.1 L196.6,406.7 L194.8,405.4 L192.9,404.1 L190.9,402.8 L191.1,400.0 L192.2,397.5 L190.5,397.1 L189.0,396.2 L188.6,393.5 L189.6,390.9 L187.7,389.2 L185.7,387.4 L184.9,384.8 L183.0,383.0 L184.7,381.4 L186.0,379.4 L187.9,378.0 L189.6,376.4 L191.9,374.9 L192.8,372.0 L195.4,370.8 L196.9,368.5 L195.7,366.3 L194.6,364.1 L193.5,361.9 L194.8,359.9 L195.1,357.4 L196.2,355.3 L197.3,353.2 L198.6,351.2 L198.8,348.7 L201.4,347.6 L204.2,347.4 L206.7,346.1 L207.9,343.6 L208.6,340.9 L209.3,338.2 L211.0,337.0 L212.7,335.9 L214.6,335.0 L216.6,336.5 L218.0,338.5 L219.1,340.8 L220.4,343.0 L220.1,345.7 L221.5,347.8 L222.3,350.2 L222.5,352.7 L224.8,353.5 L226.5,355.3 L228.9,354.9 L231.1,354.1 L233.1,352.7 L233.5,350.3 L233.0,347.8 L233.0,345.4 L233.2,342.9 L233.5,340.5 L233.2,338.0 L233.8,335.6 L236.2,334.6 L238.5,333.5 L241.0,332.9 L243.8,332.7 L246.5,331.8 L248.9,330.3 L249.4,328.1 L249.7,325.8 L252.4,324.9 L255.3,325.4 L257.9,323.9 L260.7,323.7 L263.3,322.8 L266.0,322.4 L266.7,320.3 L268.5,319.0 L269.9,317.4 L271.3,315.8 L273.7,314.9 L276.0,313.9 L277.9,314.9 L279.2,316.6 L281.8,316.9 L284.5,317.1 L286.4,318.7 L287.1,321.1 L289.2,320.1 L291.3,319.1 L293.7,319.0 L296.3,318.6 L298.9,317.9 L301.6,318.4 L302.7,320.5 L302.8,322.7 L302.9,325.0 L305.6,325.3 L308.2,326.3 L310.4,326.9 L312.6,327.3 L314.8,327.7 L316.3,329.3 L318.2,330.5 L320.1,331.6 L320.7,333.5 L321.3,335.4 L322.7,336.9 L325.0,338.1 L327.2,339.3 L329.3,340.8 L329.4,343.0 L331.4,344.6 L331.4,346.9 L332.5,348.7"/>
<path d="M332.5,348.7 L334.6,348.7 L336.7,347.6 L338.5,346.1 L340.7,346.9 L341.7,349.2 L343.8,350.1 L344.1,352.1 L345.4,353.7 L346.4,355.3 L347.9,357.1 L349.6,358.7 L351.7,359.8 L353.7,358.3 L356.1,357.8 L358.3,356.7 L360.1,354.9 L362.2,353.5 L363.6,351.4 L365.8,350.4 L367.5,348.7 L369.6,349.6 L371.9,349.8 L374.1,350.1 L376.6,351.1 L379.3,351.2 L382.0,351.4 L383.1,353.5 L384.7,355.3 L386.5,354.3 L388.6,354.0 L389.4,352.0 L391.3,350.9 L393.6,350.7 L395.7,351.4 L397.9,351.9 L400.1,352.4 L401.8,354.0 L402.2,356.4 L403.5,358.4 L404.4,360.6 L406.5,361.7 L408.7,362.6 L411.0,363.3 L413.1,364.4 L415.4,365.0 L417.6,365.9 L419.3,366.7 L420.0,368.5 L422.3,367.2 L424.2,365.5 L425.9,363.6 L427.9,361.9 L429.8,363.3 L431.7,364.7 L434.2,365.3 L435.8,367.2 L438.5,367.2 L441.1,366.2 L443.7,365.6 L446.4,365.9 L448.4,364.3 L451.0,363.5 L453.0,361.9 L452.9,359.5 L454.0,357.4 L454.7,355.1 L454.3,352.7 L452.5,351.4 L450.7,350.2 L449.0,348.7 L447.0,347.4 L445.2,345.9 L443.3,344.5 L441.1,343.5 L439.6,342.0 L437.9,340.7 L435.8,340.0 L434.5,338.2 L432.7,336.3 L431.5,334.0 L430.5,331.6 L432.7,331.0 L434.4,329.4 L436.5,328.8 L438.5,327.7 L440.4,326.1 L442.6,325.3 L445.0,325.0 L445.6,323.1 L447.0,321.6 L447.7,319.7 L445.9,317.5 L443.7,315.8 L444.6,313.2 L445.0,310.5 L447.0,308.9 L449.4,307.9 L451.6,306.6 L454.3,306.3 L456.9,306.1 L459.6,306.0 L461.6,304.8 L464.1,305.2 L466.1,303.9 L463.9,303.0 L462.2,301.3 L460.3,299.8 L458.0,299.0 L455.6,298.7 L453.8,297.9 L452.9,296.1 L451.6,294.7 L453.7,293.7 L455.6,292.6 L456.9,290.7 L454.7,289.9 L452.4,289.3 L450.3,288.1 L449.0,285.6 L448.5,282.8 L450.4,282.0 L451.2,279.9 L453.0,278.9 L455.2,279.5 L457.5,279.2 L459.6,280.2 L462.2,279.5 L465.0,279.5 L467.5,278.1 L469.9,278.3 L471.8,280.0 L474.1,280.2 L476.4,279.0 L479.0,278.3 L481.1,276.9 L483.3,275.4 L485.9,274.6 L488.7,275.1 L491.2,274.0 L493.8,273.6 L496.3,272.4 L498.9,271.8 L501.7,272.0 L504.3,271.4 L507.0,271.0 L509.6,270.4 L512.2,269.8 L514.9,269.7 L517.6,269.6 L518.7,267.5 L520.2,265.7 L523.0,265.6 L525.3,263.7 L528.1,263.8 L529.6,264.7 L531.3,264.9 L534.0,264.5 L536.1,262.6 L539.1,262.8 L541.5,261.6 L543.9,260.4 L546.7,260.2 L549.1,258.5 L551.8,257.9 L554.4,257.1 L557.1,256.5 L559.5,256.8 L561.5,255.7 L563.7,255.1 L564.1,252.4 L565.0,249.9 L567.2,248.9 L569.3,247.8 L571.6,247.2 L573.1,244.8 L575.6,243.3 L577.9,243.1 L579.9,244.7 L582.2,244.6 L584.5,244.6 L586.7,245.9 L589.2,245.2 L591.4,245.9 L594.1,246.2 L596.7,247.2 L599.3,246.3 L601.9,245.4 L603.9,246.3 L605.5,247.7 L607.2,249.1 L607.1,251.7 L607.7,254.2 L608.3,256.7 L609.3,259.1 L609.2,261.7 L608.9,264.4 L609.0,267.0 L609.8,269.6 L611.1,271.4 L612.2,273.3 L613.8,274.9 L616.2,273.4 L619.2,273.5 L621.7,272.3 L623.9,271.8 L626.2,271.8 L628.3,271.0 L629.1,273.1 L630.6,274.8 L631.9,276.6 L632.3,278.9 L634.7,278.6 L636.4,276.6 L638.8,276.2 L641.0,277.1 L643.3,277.8 L645.4,278.9 L647.6,280.6 L649.4,282.8 L650.6,281.2 L651.8,279.7 L652.0,277.6 L652.2,279.8 L651.4,282.0 L651.5,284.2 L650.3,285.7 L648.6,286.7 L647.3,288.1 L648.5,290.0 L649.4,292.1 L650.3,290.0 L651.6,288.3 L653.3,286.8 L655.9,285.9 L658.7,286.5 L661.3,285.5 L663.9,286.1 L666.5,286.8 L667.5,284.8 L669.7,283.6 L670.5,281.5 L673.0,281.3 L674.9,279.7 L677.1,278.9 L677.9,276.4 L679.3,274.3 L681.0,272.3 L682.9,270.4 L685.4,269.4 L687.4,267.8 L690.0,267.0 L687.8,268.0 L685.3,268.3 L687.3,266.7 L689.8,265.8 L691.9,264.4 L694.0,264.3 L695.8,263.1 L698.0,262.1 L699.8,260.4 L701.0,259.6 L702.4,259.1 L702.1,261.3 L701.5,263.5 L701.1,265.7 L699.4,266.7 L697.7,267.7 L695.8,268.3 L697.0,269.4 L697.1,271.0"/>
<path d="M767.0,348.7 L768.8,346.5 L771.0,344.8 L772.1,342.7 L771.3,340.3 L772.3,338.2 L774.3,336.6 L776.2,335.0 L778.8,335.5 L781.5,335.6 L782.4,337.9 L784.2,339.5 L786.9,339.7 L789.4,340.8 L790.6,342.4 L791.5,344.2 L792.1,346.1 L794.0,345.3 L796.0,344.8 L798.6,343.9 L801.5,343.7 L803.9,342.2 L806.5,341.3 L808.9,340.0 L811.0,338.2 L811.6,336.4 L813.2,335.6 L814.8,333.7 L817.1,332.9 L819.3,333.0 L821.5,333.2 L823.7,332.4 L825.9,333.4 L828.0,334.7 L830.3,335.6 L832.6,336.8 L833.9,339.0 L835.6,340.8 L836.4,342.8 L837.8,344.4 L839.1,346.1 L840.8,347.4 L843.2,349.0 L846.2,348.8 L848.7,350.1 L851.0,350.5 L852.9,351.6 L854.7,353.1 L856.7,354.0 L857.8,355.9 L858.8,357.9 L860.6,359.3 L862.8,360.3 L865.1,360.8 L867.4,361.6 L869.8,361.9 L872.5,361.7 L875.1,361.6 L877.8,361.4 L878.5,358.7 L880.4,356.7 L879.4,355.1 L877.4,354.3 L876.4,352.7 L879.1,352.9 L881.7,352.0 L884.3,351.4 L885.6,353.2 L886.8,355.1 L887.6,357.2 L888.3,359.3 L889.9,360.8 L891.7,362.2 L893.6,363.3 L896.0,363.6 L898.2,364.4 L900.2,365.9 L898.0,366.7 L895.8,367.5 L893.6,368.5 L892.8,370.3 L892.2,372.2 L890.9,373.8 L891.2,376.0 L892.6,378.0 L892.3,380.4 L891.2,382.3 L889.7,384.0 L888.3,385.7 L885.9,386.4 L884.2,388.1 L882.1,389.1 L880.4,390.9 L879.6,393.5 L879.0,396.3 L877.8,398.8 L878.5,401.4 L877.8,404.2 L878.5,406.8 L879.1,409.4 L880.2,411.9 L881.5,414.4 L881.7,417.3 L882.4,419.6 L882.7,422.0 L883.8,424.2 L884.3,426.5 L882.3,428.1 L879.8,429.0 L877.8,430.5 L875.9,432.4 L875.5,435.1 L873.8,437.1 L871.7,438.4 L869.3,438.6 L866.9,439.2 L864.6,439.7 L862.0,438.8 L859.2,438.8 L856.8,437.3 L854.0,437.1 L851.9,437.8 L850.0,439.0 L848.3,440.4 L846.1,441.0 L843.6,439.9 L840.8,440.4 L838.2,439.7"/>
<path d="M832.9,491.4 L830.9,490.1 L828.4,490.0 L826.3,488.8 L824.3,490.1 L821.8,490.2 L819.7,491.4 L817.2,492.6 L814.2,492.6 L811.8,494.1 L809.8,495.4 L808.1,497.1 L806.1,498.3 L803.9,499.3 L802.0,500.4 L799.8,501.1 L797.7,501.7 L796.0,503.3 L794.3,505.0 L792.1,505.9 L794.2,507.8 L796.0,509.9 L798.0,510.4 L799.2,512.3 L801.3,512.5 L802.3,514.6 L802.8,516.8 L802.6,519.1 L804.2,520.8 L804.7,523.0 L805.1,525.3 L806.6,527.0 L807.4,529.5 L808.9,531.6 L810.5,533.6 L809.3,535.7 L809.0,537.9 L809.2,540.2 L811.1,541.8 L813.1,543.4 L814.5,545.5 L814.5,548.3 L815.8,550.7 L813.8,552.2 L812.8,554.7 L810.5,556.0 L809.6,558.6 L809.2,561.3 L808.5,563.1 L807.6,564.9 L806.6,566.6 L807.7,568.2 L808.8,569.8 L809.2,571.8 L809.9,574.0 L809.5,576.2 L809.2,578.4"/>
<path d="M578.2,633.8 L579.4,631.9 L581.4,630.7 L582.2,628.5 L583.1,626.5 L585.3,625.6 L585.8,623.3 L587.4,621.9 L589.7,620.9 L592.3,620.8 L594.7,620.0 L596.9,618.7 L599.3,618.0 L600.7,616.1 L603.0,615.3 L604.7,613.9 L607.0,613.2 L608.5,611.4 L609.8,609.4 L611.7,608.0 L613.9,606.9 L615.1,604.8 L615.9,602.7 L617.6,601.4 L619.4,600.1 L620.4,598.2 L622.0,596.7 L622.4,594.3 L624.3,592.9 L625.1,590.7 L626.4,588.8 L628.8,587.7 L629.3,585.3 L630.9,583.7 L632.5,582.6 L634.0,581.5 L634.9,579.7 L637.3,580.0 L639.7,580.4 L641.9,582.0 L644.4,582.0 L646.8,582.4 L649.5,582.4 L652.0,583.4 L654.7,583.1 L657.3,583.7 L660.0,584.0 L662.8,584.3 L665.2,586.0 L667.9,586.3 L669.8,587.8 L672.2,588.3 L674.4,589.0 L675.1,586.6 L673.7,584.2 L674.0,581.8 L674.4,579.3 L675.1,576.9 L674.4,574.5 L676.5,573.7 L677.6,571.7 L679.1,570.2 L681.0,569.2 L683.2,568.4 L685.5,567.9 L687.9,567.9 L690.0,566.6 L687.9,566.0 L690.1,566.4 L691.7,568.0 L693.7,568.7 L695.8,569.2 L698.3,570.3 L701.0,570.9 L703.7,571.3 L706.4,571.8 L709.0,571.3 L711.7,571.0 L714.3,570.8 L717.0,571.2 L719.6,570.5 L722.1,569.4 L724.8,569.0 L727.5,569.3 L730.0,568.0 L732.7,567.9 L735.3,567.0 L737.9,566.7 L740.6,567.2 L743.2,566.6 L745.9,566.6 L748.6,567.2 L751.2,566.9 L753.9,567.0 L756.4,565.8 L759.1,566.0 L761.7,565.2 L764.3,565.1 L767.0,565.5 L769.7,565.7 L772.3,565.2 L774.9,565.3 L777.6,565.2 L780.2,565.7 L782.8,566.0 L784.5,567.2 L786.2,568.4 L788.1,569.2 L790.6,570.4 L793.2,571.4 L796.0,571.8 L798.6,572.9 L801.5,573.1 L803.9,574.5 L805.4,576.2 L807.6,576.9 L809.2,578.4"/>
</g>
<g fill="none" stroke="#2e2e2e" stroke-width="1.5" stroke-linejoin="round">
<path d="M697.1,271.0 L719.6,288.1 L738.0,306.6 L751.2,327.7 L767.0,348.7"/>
<path d="M321.4,607.4 L335.9,509.9 L386.0,501.2 L420.0,532.3 L433.2,544.2 L447.7,562.6"/>
<path d="M447.7,562.6 L450.2,562.4 L452.7,561.7 L455.2,561.9 L457.6,560.8 L460.1,560.5 L462.6,560.2 L465.1,559.7 L467.8,560.5 L470.2,559.7 L472.7,559.2 L475.4,559.2 L478.0,559.6 L480.6,560.8 L483.3,560.4 L486.0,560.2 L488.5,561.4 L491.2,561.5 L493.8,562.2 L496.5,561.8 L498.6,560.3 L501.2,560.0 L503.8,559.5 L506.1,558.7 L508.3,557.3 L509.1,559.5 L511.5,560.6 L512.5,562.7 L514.0,564.4 L514.9,566.6 L516.4,568.8 L516.5,571.7 L518.1,573.9 L518.7,576.5 L520.6,578.6 L521.5,581.1 L523.7,581.2 L525.5,580.1 L527.6,579.7 L528.0,582.3 L527.4,585.0 L527.2,587.7 L528.5,590.3 L527.9,593.0 L528.1,595.6"/>
</g>
<g fill="none" stroke="#000" stroke-width="2" stroke-linejoin="round" stroke-linecap="round">
<path d="M332.5,348.7 L332.1,350.9 L332.5,353.1 L331.9,355.3 L331.7,357.5 L331.6,359.8 L330.6,361.9 L330.6,364.6 L330.1,367.2 L329.3,369.8 L329.8,372.5 L330.6,375.1 L328.8,376.2 L327.6,378.1 L326.1,379.6 L324.0,380.4 L321.8,381.4 L319.3,381.7 L317.3,383.2 L314.8,383.6 L314.2,385.7 L313.5,387.8 L312.2,389.6 L311.4,391.2 L311.4,393.0 L309.4,393.6 L307.7,394.9 L305.6,394.9 L303.0,395.8 L300.3,395.6 L297.7,395.7 L295.7,396.1 L293.7,396.7 L292.8,399.0 L292.4,401.5 L291.6,403.8 L290.1,405.7 L288.4,407.3 L285.9,406.1 L283.2,405.4 L280.5,404.9 L277.9,404.1 L276.3,402.5 L275.0,400.7 L273.9,398.8 L271.4,397.8 L268.7,398.1 L266.1,398.5 L263.4,398.3 L261.4,399.0 L259.5,400.1 L257.5,400.8 L255.5,401.5 L252.7,401.8 L250.0,402.5 L247.6,404.1 L245.7,405.3 L243.8,406.5 L241.4,406.8 L239.6,408.1 L237.0,408.8 L234.4,409.4 L231.7,408.9 L230.2,407.5 L228.2,407.2 L226.5,406.2 L224.2,404.7 L221.5,404.3 L219.3,402.6 L216.6,402.2 L214.0,401.6 L211.5,400.8 L209.3,399.0 L206.9,397.8 L204.6,396.5 L201.7,396.6 L199.5,394.8 L196.9,394.1 L194.5,392.9 L191.9,392.4 L189.6,390.9 L187.7,389.1 L186.3,386.9 L185.1,384.6 L183.0,383.0"/>
<path d="M312.2,389.6 L314.0,391.3 L314.8,393.6 L315.5,396.2 L316.1,398.8 L315.9,401.1 L315.9,403.3 L316.9,405.4 L318.9,405.4 L320.9,405.8 L322.7,406.8 L324.5,405.9 L325.3,404.1 L326.9,406.0 L329.3,406.8 L330.0,409.4 L330.6,412.0 L331.0,414.7 L329.4,417.2 L330.0,419.9 L329.0,422.5 L329.3,425.2 L329.6,427.9 L329.7,430.5 L330.6,433.1 L330.8,435.8 L329.5,438.3 L330.0,441.1 L329.3,443.7 L329.0,445.8 L327.9,447.8 L328.0,450.0 L326.1,450.5 L326.4,452.7 L328.1,454.3 L328.9,456.3 L329.3,458.5 L331.2,460.6 L332.8,462.9 L334.6,465.0 L336.7,465.8 L338.8,466.5 L340.7,467.7 L342.5,469.0 L344.7,470.6 L347.2,471.6 L347.1,474.0 L348.8,476.1 L348.5,478.6 L349.1,480.9 L349.0,483.3 L350.3,485.5 L349.4,488.0 L350.7,490.3 L350.4,492.7 L350.3,495.3 L350.3,498.0 L350.2,500.6 L350.7,503.3 L350.4,505.9"/>
<path d="M454.3,352.7 L457.0,352.6 L459.6,352.7 L460.8,355.0 L462.3,357.0 L463.5,359.3 L464.4,361.2 L465.8,362.8 L466.9,364.6 L467.3,367.2 L467.5,369.8 L468.8,371.6 L468.6,373.9 L469.5,375.8 L470.1,377.8 L471.3,380.3 L471.5,383.2 L472.7,385.7 L473.0,388.4 L474.1,390.9 L471.9,392.3 L469.9,394.0 L467.5,394.9 L466.2,397.1 L465.3,399.6 L463.5,401.5 L464.5,404.0 L464.5,406.7 L464.8,409.4 L467.2,410.9 L468.8,413.3 L470.2,415.0 L471.4,416.8 L472.7,418.6 L474.5,419.4 L475.2,421.4 L476.7,422.6 L479.1,424.1 L480.6,426.5 L482.6,428.1 L484.8,429.5 L487.2,430.5 L488.5,432.7 L490.4,434.6 L491.2,437.1 L492.1,439.3 L493.1,441.4 L493.8,443.7 L493.6,445.9 L495.2,447.8 L495.1,450.0 L496.0,447.4 L495.9,444.7"/>
<path d="M531.3,264.9 L531.1,267.6 L532.0,270.0 L532.4,272.5 L533.4,274.9 L533.2,277.7 L531.3,280.0 L531.4,282.9 L530.7,285.5 L530.8,288.3 L531.7,290.9 L533.6,293.2 L533.9,296.0 L534.0,298.4 L534.3,300.7 L536.1,302.8 L536.0,305.2 L534.2,306.7 L532.1,307.9 L531.4,310.1 L531.9,312.6 L530.5,314.7 L530.7,317.1 L530.6,319.4 L529.4,321.4 L529.4,323.7 L529.7,326.0 L529.0,328.3 L528.2,330.5 L528.6,332.9 L528.0,335.3 L526.9,337.5 L525.5,339.5 L523.7,340.8 L522.1,342.4 L520.2,343.5 L521.3,346.0 L521.5,348.7 L521.5,351.4 L521.6,354.1 L520.0,356.6 L520.2,359.3 L521.3,361.2 L522.4,363.2 L524.2,364.6 L526.6,365.0 L528.4,366.7 L530.7,367.2 L533.0,368.0 L534.7,369.9 L536.6,371.3 L538.7,372.5 L541.4,372.7 L543.9,373.9 L546.6,373.8 L547.4,375.6 L548.2,377.4 L549.2,379.1 L551.9,379.4 L554.4,378.0 L557.1,378.3 L559.5,378.4 L561.6,377.2 L563.7,376.4 L565.1,378.3 L566.3,380.4 L564.4,381.4 L563.2,383.3 L560.9,383.8 L559.7,385.7 L558.7,387.9 L558.2,390.2 L557.1,392.3 L555.2,393.9 L554.0,396.0 L552.7,398.1 L550.5,399.4 L549.2,401.5 L547.5,403.6 L544.7,404.3 L543.1,406.5 L540.7,407.7 L538.7,409.4 L536.2,410.5 L534.6,412.6 L532.5,414.2 L530.7,416.0 L528.1,416.9 L525.6,418.0 L523.0,418.6 L520.2,418.6 L517.6,419.4 L514.9,418.9 L512.3,419.5 L509.6,419.6 L507.0,419.9 L505.2,421.8 L504.9,424.6 L503.1,426.5 L501.1,428.2 L498.6,429.0 L496.5,430.5 L495.7,432.6 L494.4,434.3 L492.7,435.6 L491.2,437.1"/>
<path d="M529.4,323.7 L531.8,324.0 L533.9,325.2 L536.0,326.3 L538.8,326.6 L541.3,327.8 L543.9,328.5 L546.6,329.0 L548.4,327.6 L550.6,327.2 L552.5,326.0 L554.5,325.0 L557.3,325.4 L559.6,327.4 L562.4,327.7 L563.4,325.3 L564.5,323.0 L566.3,321.1 L567.6,319.3 L569.7,318.6 L571.6,317.6 L572.9,315.8 L574.6,313.8 L575.4,311.3 L576.9,309.2 L576.1,306.6 L575.3,304.1 L575.6,301.3 L574.4,299.4 L573.0,297.7 L571.6,296.0 L573.4,293.9 L575.6,292.1 L578.3,291.8 L580.9,291.1 L583.5,290.7 L585.5,290.4 L587.1,289.3 L588.7,288.1 L590.7,289.6 L591.8,292.1 L594.0,293.4 L596.8,293.6 L599.3,295.2 L601.9,296.0 L604.6,296.3 L607.2,296.5 L609.8,297.3 L612.1,297.7 L613.6,299.7 L616.1,299.6 L617.8,301.3 L620.4,302.0 L623.0,302.6 L623.3,304.7 L625.3,305.9 L625.7,307.9 L628.3,307.0 L631.0,307.2 L633.6,306.6 L635.8,306.1 L638.0,305.9 L640.2,305.2 L641.1,307.2 L643.2,308.4 L644.1,310.5 L646.8,310.7 L649.4,311.1 L652.0,311.8 L654.9,312.1 L657.1,314.2 L659.9,314.5"/>
<path d="M649.4,292.1 L649.9,294.5 L650.8,296.6 L652.0,298.7 L653.6,300.6 L653.3,303.2 L654.7,305.2 L656.4,307.5 L658.6,309.2 L659.3,311.8 L659.9,314.5 L660.0,317.2 L660.9,319.8 L661.3,322.4 L662.0,324.6 L662.5,326.9 L662.7,329.2 L662.6,331.6 L662.3,334.1 L661.0,336.1 L659.9,338.2 L660.0,340.5 L660.5,342.7 L661.3,344.8 L663.3,344.4 L664.9,343.4 L666.5,342.2 L665.5,344.5 L663.8,346.5 L662.6,348.7 L663.0,351.3 L662.8,354.1 L663.5,356.7 L663.9,359.3 L665.1,361.4 L665.4,363.8 L666.5,365.9 L668.6,367.0 L671.0,366.4 L673.1,367.2 L675.2,368.2 L677.6,367.4 L679.7,368.5 L681.3,369.9 L682.7,371.6 L683.4,373.7 L685.0,375.1 L686.5,377.6 L688.9,379.1 L687.0,379.6 L685.5,381.1 L683.7,381.7 L683.6,378.9 L682.4,376.4"/>
<path d="M563.7,376.4 L565.5,374.3 L567.7,372.5 L570.2,371.2 L573.2,371.3 L575.6,369.8 L576.3,372.1 L577.1,374.3 L578.2,376.4 L578.0,379.0 L577.5,381.7 L578.2,384.3 L580.4,384.7 L582.5,385.7 L584.8,385.7 L586.3,384.1 L587.8,382.5 L588.7,380.4 L590.7,381.0 L592.6,382.0 L594.7,382.5 L596.7,383.0 L598.6,384.6 L600.5,386.2 L601.9,388.3 L604.2,387.1 L606.0,385.1 L608.5,384.3 L609.9,382.9 L609.8,380.6 L611.2,379.1 L612.4,376.8 L614.2,375.2 L616.4,373.8 L618.6,372.5 L619.8,370.1 L621.7,368.5 L623.8,367.5 L626.0,366.9 L628.3,367.2 L629.4,369.7 L628.9,372.5 L629.6,375.1 L631.8,374.9 L634.1,374.5 L636.2,373.8 L638.2,372.3 L639.3,369.8 L641.5,368.5 L643.5,367.6 L645.4,366.4 L647.6,366.0 L649.4,364.6 L651.8,364.1 L654.0,363.3 L656.0,361.9 L658.4,360.4 L661.4,360.7 L663.9,359.3"/>
<path d="M652.0,351.4 L654.8,351.4 L657.3,350.1 L658.0,352.4 L659.9,354.0 L659.1,356.7 L657.3,358.8 L654.8,358.4 L652.6,357.2 L651.8,355.3 L651.5,353.4 L652.0,351.4"/>
<path d="M557.1,392.3 L558.0,394.9 L559.3,397.2 L560.9,399.5 L562.0,402.0 L563.7,404.1 L563.8,406.4 L564.7,408.7 L565.3,410.9 L565.0,413.3 L567.5,414.1 L569.2,416.3 L571.6,417.3 L573.5,418.3 L575.1,419.7 L576.6,421.2 L578.2,422.6 L581.1,422.8 L583.6,424.0 L586.1,425.2 L588.4,425.3 L590.4,426.4 L592.7,426.5 L594.8,425.0 L597.0,423.7 L599.3,422.6 L601.7,423.0 L603.9,422.0 L606.3,422.1 L608.5,421.3 L609.6,419.2 L609.6,416.6 L611.2,414.7 L611.5,412.0 L612.0,409.4 L612.5,406.8 L614.1,408.0 L616.1,408.3 L617.8,409.4 L620.4,409.7 L623.1,409.5 L625.7,409.4 L628.1,409.3 L630.2,410.6 L632.7,409.8 L634.9,410.7 L635.8,413.1 L637.9,414.8 L638.8,417.3 L639.4,420.0 L639.0,422.6 L638.1,425.2 L637.7,427.8 L638.3,430.5 L638.3,432.9 L636.9,434.9 L636.2,437.1 L636.9,439.3 L637.2,441.6 L638.3,443.7 L638.5,445.9 L637.8,447.9 L637.5,450.0 L637.5,449.2 L636.0,450.7 L633.9,451.5 L632.8,453.5 L630.9,454.5 L628.1,454.5 L625.7,455.8"/>
<path d="M625.7,455.8 L625.7,474.3 L627.0,496.7"/>
<path d="M751.2,327.7 L750.2,329.8 L748.6,331.6 L747.1,333.3 L744.9,334.0 L743.3,335.6 L742.7,338.2 L742.0,340.8 L740.1,342.6 L737.5,343.3 L735.4,344.8 L735.3,346.9 L734.1,348.7 L735.6,350.4 L737.4,351.6 L739.3,352.7 L740.8,354.4 L742.7,355.5 L744.6,356.7 L745.7,358.3 L746.5,360.1 L747.2,361.9 L748.1,364.5 L748.6,367.2 L746.8,368.6 L746.4,371.1 L744.6,372.5 L741.9,372.4 L739.4,374.1 L736.7,373.8 L734.5,374.2 L732.3,374.2 L730.1,373.8 L730.0,371.0 L728.8,368.5 L727.5,366.8 L726.0,365.1 L724.8,363.3 L722.8,362.1 L720.3,362.4 L718.2,361.4 L716.5,362.5 L714.7,363.5 L713.0,364.6 L712.2,366.7 L711.7,368.9 L711.6,371.2 L709.4,371.4 L707.2,372.3 L705.0,372.5 L702.9,373.6 L700.9,374.7 L698.5,375.1 L695.8,375.0 L693.1,375.7 L690.5,376.4 L688.1,377.4 L686.4,379.5 L684.0,380.4 L682.0,379.8 L680.0,379.1"/>
<path d="M730.1,373.8 L728.0,375.3 L726.5,377.2 L724.8,379.1 L723.1,380.6 L720.9,381.1 L718.6,381.5 L716.9,383.0 L716.9,385.7 L716.5,388.3 L715.6,390.9 L716.9,392.7 L717.3,395.0 L718.1,397.1 L719.6,398.8 L720.9,400.3 L721.8,402.1 L722.2,404.1 L721.7,406.0 L720.7,407.7 L719.6,409.4 L721.7,410.7 L724.2,411.6 L726.1,413.3 L725.9,415.5 L725.7,417.8 L724.8,419.9 L725.5,422.5 L727.2,424.5 L728.8,426.5 L730.6,428.2 L731.4,430.5 L729.9,432.4 L730.2,435.1 L728.8,437.1 L729.2,439.7 L728.6,442.3 L729.1,444.9 L729.5,447.5 L730.1,450.0 L729.4,447.5 L728.4,445.1 L728.4,442.4 L727.5,440.0 L728.5,442.5 L728.8,445.2 L728.8,447.9 L727.6,450.0 L726.1,451.9 L728.6,452.1 L730.6,453.5 L732.7,454.5 L735.1,454.0 L737.2,453.0 L739.3,451.9 L739.9,454.1 L740.4,456.4 L741.2,458.5 L741.5,460.7 L742.3,462.8 L742.0,465.0"/>
<path d="M792.1,346.1 L793.3,348.0 L794.8,349.5 L796.0,351.4 L796.1,353.7 L796.3,355.9 L797.3,358.0 L795.6,359.0 L793.8,359.6 L792.1,360.6 L792.2,362.9 L793.1,365.0 L793.4,367.2 L795.3,368.6 L796.5,370.7 L797.9,372.6 L800.0,373.8 L802.0,375.5 L804.2,376.7 L806.6,377.8 L809.1,379.2 L811.8,379.8 L814.5,380.4 L816.1,381.5 L818.0,382.1 L819.7,383.0 L821.3,384.6 L822.2,386.6 L823.7,388.3 L825.7,389.2 L827.1,390.9 L828.4,392.6 L830.3,393.6 L831.8,395.6 L833.7,397.2 L835.6,398.8 L837.6,399.8 L839.1,401.4 L840.8,402.8 L840.0,405.0 L838.9,407.1 L838.2,409.4 L837.9,412.1 L837.1,414.6 L836.9,417.3 L835.6,419.8 L835.6,422.6 L836.9,424.2 L837.1,426.2 L838.2,427.9 L837.7,430.2 L838.2,432.6 L837.9,435.0 L837.1,437.3 L837.7,439.7"/>
<path d="M837.7,439.7 L836.9,450.0 L835.6,453.2 L834.2,466.4 L830.3,480.9"/>
<path d="M279.2,483.5 L280.0,481.7 L281.8,480.9 L284.4,480.7 L287.0,479.9 L289.8,480.5 L292.4,480.5 L295.0,479.6 L296.7,478.0 L297.9,475.9 L300.0,474.7 L301.6,473.0 L304.0,472.8 L306.4,472.8 L308.7,472.2 L311.1,472.1 L313.5,471.6 L316.1,472.0 L318.8,471.4 L321.4,471.1 L324.0,471.1 L326.8,471.0 L329.2,469.3 L331.9,469.0 L333.5,471.0 L335.5,472.4 L337.2,474.3 L339.3,474.0 L341.2,473.0 L342.6,475.0 L342.3,477.7 L343.8,479.6 L346.5,480.0 L349.1,480.9"/>
<path d="M259.4,566.6 L259.0,568.9 L257.8,570.7 L256.6,572.6 L255.5,574.5 L255.7,577.0 L254.6,579.1 L254.0,581.4 L253.4,583.7 L255.5,582.9 L257.3,581.4 L259.2,580.2 L261.2,579.1 L263.4,578.4 L266.1,578.0 L268.8,577.5 L271.3,576.1 L273.9,575.3 L276.5,574.8 L279.2,575.6 L281.8,574.9 L284.5,575.0 L287.2,575.3 L289.9,575.9 L292.4,577.1 L293.9,579.2 L295.6,581.0 L297.7,582.4 L298.8,584.2 L300.3,585.7 L301.5,587.4 L302.9,589.0 L304.0,591.2 L303.6,593.8 L305.1,595.8 L305.6,598.2 L306.7,600.6 L307.8,603.0 L309.1,605.3 L310.8,607.4 L313.4,607.4 L316.1,607.1 L318.8,607.5 L321.4,607.4"/>
<path d="M386.0,501.2 L387.5,499.1 L390.0,498.2 L391.4,495.9 L393.7,494.8 L395.2,492.7 L396.5,490.4 L398.2,488.4 L399.6,486.2 L401.4,484.2 L403.1,482.2 L404.3,480.1 L405.7,478.0 L408.1,476.9 L409.2,474.6 L411.0,473.0 L413.0,471.0 L415.3,469.5 L417.7,468.0 L420.0,466.4 L422.6,465.6 L425.3,465.0 L427.5,464.8 L429.7,464.4 L431.9,463.7 L432.8,461.4 L434.7,459.5 L435.8,457.2 L435.8,454.4 L438.0,452.6 L439.2,450.4 L439.8,447.9 L442.2,447.9 L444.4,446.5 L447.0,447.1 L449.3,446.4 L451.6,445.8 L453.5,447.2 L454.8,449.1 L455.0,451.7 L456.9,453.2 L458.0,455.6 L459.9,457.6 L461.4,459.8 L462.2,462.4 L464.5,464.0 L466.1,466.4 L468.5,467.4 L470.3,469.4 L472.7,470.3 L475.1,470.6 L477.6,470.9 L479.7,472.5 L482.1,472.9 L484.6,473.0 L487.2,473.6 L489.2,475.7 L491.8,476.4 L494.1,477.8 L496.6,478.7 L499.1,479.6 L501.0,481.4 L503.3,482.6 L505.4,484.0 L508.1,484.5 L510.0,486.4 L512.3,487.5 L514.5,488.4 L516.6,489.6 L518.9,490.0 L520.9,491.5 L523.3,491.9 L525.5,492.7 L528.2,493.0 L530.9,493.6 L533.5,494.1 L536.1,495.2 L538.7,495.9 L541.1,495.4 L543.4,496.2 L545.8,495.8 L548.1,496.5 L550.5,496.7"/>
<path d="M395.2,490.1 L395.2,508.6"/>
<path d="M495.9,444.7 L463.5,466.4"/>
<path d="M550.5,498.5 L588.7,499.3 L627.0,496.7 L670.5,493.5"/>
<path d="M550.5,496.7 L551.4,498.9 L552.2,501.1 L553.2,503.3 L552.1,505.8 L552.8,508.7 L551.1,511.1 L551.1,513.9 L550.5,516.5 L552.7,517.9 L554.8,519.3 L557.1,520.4 L556.6,523.0 L557.3,525.7 L557.2,528.4 L557.1,531.0 L556.5,533.4 L557.9,535.7 L557.2,538.1 L557.3,540.4 L557.6,542.8 L560.1,544.0 L561.6,546.5 L563.7,548.1 L565.6,550.1 L567.3,552.1 L569.8,553.4 L567.9,555.4 L565.3,556.4 L563.7,558.7 L564.0,560.9 L564.3,563.0 L564.5,565.2 L562.9,566.6 L562.8,569.1 L561.1,570.5 L562.9,572.1 L565.0,573.2 L562.9,574.0 L561.2,575.4 L558.8,575.6 L557.1,577.1 L555.2,578.3 L553.2,579.1 L551.2,580.1 L549.2,581.1 L546.9,582.8 L545.6,585.4 L543.3,587.1 L541.3,589.0 L538.7,589.8 L536.0,590.3 L534.3,591.6 L532.4,592.6 L531.2,594.5 L529.4,595.6 L527.8,596.6 L526.8,598.2 L526.6,600.5 L526.1,602.8 L526.2,605.1 L525.5,607.4 L528.1,607.7 L530.7,608.8 L533.3,608.6 L536.0,608.7 L535.7,611.2 L536.6,613.6 L536.8,616.1 L537.0,618.5 L536.8,621.0 L536.9,623.5 L537.3,625.9 L539.6,626.6 L542.0,625.9 L544.2,627.2 L546.6,627.2 L549.2,627.9 L551.9,627.4 L554.5,626.8 L557.1,627.2 L559.8,626.9 L562.4,627.7 L564.3,628.0 L565.7,629.7 L567.7,629.8 L566.2,631.9 L564.8,634.1 L563.7,636.4 L565.7,638.1 L567.8,639.6 L570.3,640.4 L572.0,641.8 L573.7,643.1 L575.6,644.3 L578.0,644.1 L580.3,643.6 L580.1,641.1 L579.4,638.7 L579.0,636.2 L578.2,633.8"/>
<path d="M588.7,499.3 L590.2,501.5 L590.6,504.2 L591.9,506.4 L592.6,509.0 L594.0,511.2 L595.5,513.6 L596.2,516.3 L597.3,518.9 L597.1,521.9 L597.8,524.6 L599.3,527.0 L599.4,529.7 L600.2,532.3 L599.9,535.0 L600.4,537.6 L601.1,540.2 L601.9,542.8 L601.9,545.5 L601.7,548.2 L601.0,550.8 L600.6,553.5 L599.9,556.1 L599.3,558.7 L598.1,560.9 L596.7,563.0 L596.9,565.9 L595.3,567.9 L597.6,569.3 L600.3,569.9 L602.6,571.4 L604.6,573.2 L605.5,575.7 L607.1,577.9 L608.0,580.4 L609.8,582.4 L611.9,584.0 L614.3,585.1 L615.9,587.2 L617.8,589.0 L619.9,590.4 L621.8,592.2 L624.3,592.9"/>
<path d="M718.2,469.0 L717.7,471.7 L718.6,474.3 L718.9,476.9 L719.6,479.5 L719.0,482.2 L719.8,484.8 L719.6,487.5 L720.4,490.1 L720.8,492.7 L721.1,495.3 L720.4,498.0 L720.9,500.6 L722.9,501.8 L723.6,504.3 L726.1,505.0 L726.8,507.4 L728.8,508.6 L730.9,510.2 L732.7,512.1 L733.5,514.7 L735.4,516.5 L736.7,518.3 L737.0,520.6 L738.7,522.2 L739.3,524.4 L741.4,525.6 L742.3,528.0 L744.0,529.6 L745.9,531.0 L748.0,532.6 L750.4,533.5 L753.1,533.7 L755.1,535.4 L755.4,537.5 L755.7,539.5 L756.5,541.5 L759.1,541.1 L761.8,541.4 L764.3,540.1 L767.1,540.7 L769.6,539.7 L772.3,539.2 L774.7,537.4 L777.3,536.6 L780.3,536.7 L783.0,536.2 L785.5,534.9 L787.0,533.5 L788.8,532.9 L790.7,532.3 L792.6,533.3 L794.9,533.1 L796.5,534.8 L798.7,534.9 L801.3,534.6 L803.9,533.6 L806.6,533.7 L809.2,533.6"/>
<path d="M739.3,451.9 L741.7,451.2 L744.0,450.2 L746.5,449.8 L748.7,448.2 L751.2,447.9 L753.0,449.3 L755.2,449.7 L757.0,451.1 L759.1,451.9 L761.8,451.7 L764.3,451.1 L767.0,450.7 L769.6,450.5 L770.9,452.5 L772.4,454.3 L774.2,455.8 L776.2,457.1 L778.6,456.2 L780.7,454.9 L782.9,453.6 L785.5,453.2 L787.9,454.7 L790.7,455.0 L793.2,456.0 L796.0,456.3 L798.7,456.6 L801.2,457.5 L803.8,458.6 L806.5,458.9 L809.2,459.0 L811.4,459.4 L813.6,459.2 L815.8,459.8 L817.2,461.9 L817.9,464.5 L819.7,466.4 L821.5,468.3 L822.8,470.5 L824.5,472.4 L826.3,474.3 L827.1,476.8 L828.6,478.9 L830.3,480.9 L832.7,481.2 L835.1,481.5 L837.3,482.5 L839.5,483.5 L839.6,485.7 L839.4,487.9 L839.5,490.1 L837.2,490.1 L835.0,490.4 L832.9,491.4"/>
<path d="M679.3,510.4 L677.5,511.9 L675.2,512.2 L674.7,514.5 L675.2,516.9 L677.8,517.7 L680.5,517.5 L680.6,519.2 L681.7,520.4 L683.4,522.0 L685.5,523.3 L687.0,525.1 L688.7,527.3 L691.1,528.6 L690.9,531.0 L691.6,533.3 L693.3,534.7 L695.2,535.6 L697.0,536.6 L699.1,536.2 L701.0,536.8 L703.0,537.0 L704.5,538.4 L706.3,539.1 L706.5,541.6 L707.5,543.8 L707.6,545.6 L706.9,547.3 L705.1,548.9 L703.9,550.9 L702.5,552.4 L702.2,554.4 L703.6,554.9 L704.5,556.1 L706.5,556.5 L708.4,556.8 L710.4,556.7 L710.2,559.1 L709.8,561.4 L710.5,563.7 L710.4,566.1 L712.9,566.9 L715.1,568.4 L716.7,569.6 L718.6,570.2"/>
</g>
<g fill="none" stroke="#10243f" stroke-width="1.7" stroke-linejoin="round">
<path d="M206.7,445.3 L208.9,446.5 L211.5,446.8 L214.0,447.1 L216.1,448.9 L218.6,449.2 L219.6,451.2 L221.5,452.5 L222.5,454.5 L225.2,454.0 L227.8,453.2 L229.0,452.1 L229.1,450.5 L231.3,450.0 L233.1,448.6 L235.0,447.5 L237.0,446.6 L239.7,445.9 L242.1,444.4 L244.9,444.0 L247.4,442.9 L250.1,442.2 L252.9,442.3 L255.5,441.3 L258.2,441.5 L260.8,442.3 L263.4,442.6 L264.4,444.3 L265.1,446.1 L266.0,447.9 L268.7,447.8 L271.4,448.1 L273.9,449.2 L276.4,450.4 L279.2,449.9 L281.8,450.5 L283.6,451.9 L284.3,454.2 L285.8,455.8 L285.8,458.1 L287.2,460.1 L287.1,462.4 L286.1,464.5 L285.6,466.9 L284.5,469.0 L282.7,469.8 L281.3,471.4 L279.2,471.6 L280.3,473.7 L279.3,476.1 L280.5,478.2 L279.3,480.7 L279.2,483.5 L277.4,484.8 L275.6,486.1 L273.9,487.5 L271.2,487.2 L268.8,485.7 L266.0,485.6 L263.4,484.8 L260.6,484.8 L258.0,485.8 L255.3,486.4 L252.8,487.5 L250.6,488.7 L249.6,491.2 L247.6,492.7 L245.8,494.6 L243.4,495.8 L241.0,496.7 L242.3,498.7 L243.3,500.9 L243.6,503.3 L245.8,504.1 L247.1,506.0 L248.9,507.2 L246.4,506.2 L243.6,506.4 L241.0,505.9 L240.2,503.7 L238.8,502.0 L237.0,500.6"/>
<path d="M223.8,488.8 L226.3,487.5 L229.1,487.5 L229.4,490.2 L230.1,492.7 L230.4,495.4 L227.6,495.3 L225.1,494.1 L225.1,491.3 L223.8,488.8"/>
<path d="M679.3,510.4 C679.2,509.0 679.1,508.5 678.8,505.2 C678.5,501.9 677.6,501.9 678.2,498.1 C678.8,494.3 679.1,494.8 681.1,491.1 C683.1,487.4 682.7,487.9 685.8,484.1 C688.9,480.3 688.1,480.8 692.8,477.0 C697.5,473.2 696.6,472.3 703.4,470.0 C710.2,467.7 707.9,469.8 718.2,468.5 C728.5,467.2 735.7,465.9 742.0,465.0" stroke-width="2.2" stroke="#17405e"/>
<path d="M812.8,459.7 L814.6,461.0 L815.9,462.9 L817.4,464.5 L819.1,465.9 L820.2,468.0 L822.0,469.2 L823.9,470.5 L825.3,472.2 L826.9,473.7 L828.8,475.0 L830.0,476.9"/>
</g>
<g fill="none" stroke="#14202c" stroke-width="1.6" stroke-linejoin="round">
<path d="M237.0,500.6 L234.4,499.7 L231.8,499.5 L229.1,500.1 L228.1,501.9 L227.0,503.6 L225.1,504.6 L226.7,506.1 L227.9,508.0 L229.1,509.9 L230.0,512.0 L231.3,513.7 L233.1,515.1 L233.0,517.4 L234.6,519.4 L234.4,521.7 L234.4,524.0 L235.0,526.2 L235.7,528.3 L236.4,531.0 L236.7,533.8 L238.3,536.2 L239.0,538.4 L238.8,540.6 L238.3,542.8 L239.3,544.8 L240.4,546.7 L242.3,548.1 L243.9,550.1 L246.0,551.4 L247.6,553.4 L250.2,554.4 L252.7,555.5 L255.5,556.0 L258.2,556.1 L260.7,557.3 L262.3,559.2 L263.4,561.3 L262.4,563.3 L261.2,565.2 L259.4,566.6"/>
</g>
<g fill="#000">
<circle cx="281.3" cy="330.3" r="4"/>
<text x="286.2" y="333.8" font-size="10.35">Uralsk</text>
<circle cx="376.8" cy="370.4" r="4"/>
<text x="381.7" y="373.9" font-size="10.35">Aktobe</text>
<circle cx="267.9" cy="440.2" r="4"/>
<text x="272.8" y="443.7" font-size="10.35">Atyrau</text>
<circle cx="236.5" cy="527.8" r="4"/>
<text x="241.4" y="531.3" font-size="10.35">Aktau</text>
<circle cx="490.4" cy="301.8" r="4"/>
<text x="495.3" y="305.3" font-size="10.35">Kostanay</text>
<circle cx="578.2" cy="262.3" r="4"/>
<text x="583.1" y="265.8" font-size="10.35">Petropavlovsk</text>
<circle cx="584.0" cy="300.0" r="4"/>
<text x="588.9" y="303.5" font-size="10.35">Kokshetau</text>
<circle cx="651.5" cy="390.9" r="4"/>
<text x="656.4" y="394.4" font-size="10.35">Karaganda</text>
<circle cx="708.5" cy="317.1" r="4"/>
<text x="713.4" y="320.6" font-size="10.35">Pavlodar</text>
<circle cx="815.8" cy="361.9" r="4"/>
<text x="820.7" y="365.4" font-size="10.35">Ustkamen</text>
<circle cx="557.9" cy="449.2" r="4"/>
<text x="562.8" y="452.7" font-size="10.35">Zheskazgan</text>
<circle cx="516.8" cy="529.6" r="4"/>
<text x="521.7" y="533.1" font-size="10.35">Kyzylorda</text>
<circle cx="630.4" cy="579.0" r="4"/>
<text x="635.3" y="582.5" font-size="10.35">Taraz</text>
<circle cx="599.3" cy="596.9" r="4"/>
<text x="604.2" y="600.4" font-size="10.35">Shimkent</text>
<circle cx="762.5" cy="508.6" r="4"/>
<text x="767.4" y="512.1" font-size="10.35">Taldykurgan</text>
<path d="M619.9,350.5 L621.3,354.0 L625.0,354.2 L622.1,356.6 L623.1,360.3 L619.9,358.2 L616.7,360.3 L617.7,356.6 L614.8,354.2 L618.5,354.0Z" fill="none" stroke="#ff1010" stroke-width="1.6" stroke-linejoin="miter"/>
<text x="625.9" y="359.5" font-size="12" font-weight="bold">Astana</text>
<path d="M740.1,556.0 L741.5,559.5 L745.2,559.7 L742.3,562.1 L743.3,565.8 L740.1,563.7 L736.9,565.8 L737.9,562.1 L735.0,559.7 L738.7,559.5Z" fill="none" stroke="#ff1010" stroke-width="1.6" stroke-linejoin="miter"/>
<text x="746.1" y="565.0" font-size="12" font-weight="bold">Almaty</text>
</g>
<rect x="378.3" y="316.5" width="47.7" height="21.5" fill="none" stroke="#6a6aff" stroke-width="0.8"/>
<text x="402.1" y="333.4" font-size="18.4" text-anchor="middle" fill="#1414F0">1020</text>
<rect x="379.1" y="480.8" width="48.0" height="21.5" fill="none" stroke="#6a6aff" stroke-width="0.8"/>
<text x="403.1" y="497.7" font-size="18.4" text-anchor="middle" fill="#1414F0">1010</text>
<rect x="267.5" y="612.5" width="47.2" height="21.9" fill="none" stroke="#6a6aff" stroke-width="0.8"/>
<text x="291.1" y="629.8" font-size="18.4" text-anchor="middle" fill="#1414F0">1000</text>
<rect x="650.5" y="474.1" width="47.7" height="22.3" fill="none" stroke="#6a6aff" stroke-width="0.8"/>
<text x="674.4" y="491.8" font-size="18.4" text-anchor="middle" fill="#1414F0">1020</text>
<rect x="584.3" y="624.6" width="47.2" height="21.6" fill="none" stroke="#6a6aff" stroke-width="0.8"/>
<text x="607.9" y="641.6" font-size="18.4" text-anchor="middle" fill="#1414F0">1010</text>
<rect x="751.2" y="599.5" width="47.5" height="21.9" fill="none" stroke="#6a6aff" stroke-width="0.8"/>
<text x="775.0" y="616.8" font-size="18.4" text-anchor="middle" fill="#1414F0">1020</text>
<rect x="832.4" y="419.9" width="47.2" height="21.9" fill="none" stroke="#6a6aff" stroke-width="0.8"/>
<text x="856.0" y="437.2" font-size="18.4" text-anchor="middle" fill="#1414F0">1020</text>
</g>
<rect x="153.5" y="182.5" width="784.0" height="522.0" fill="none" stroke="#000" stroke-width="1"/>
<g stroke="#000" stroke-width="1" fill="none">
<path d="M137.8,217.5H153.5"/>
<path d="M137.8,274.3H153.5"/>
<path d="M137.8,331.0H153.5"/>
<path d="M137.8,387.4H153.5"/>
<path d="M137.8,443.3H153.5"/>
<path d="M137.8,499.3H153.5"/>
<path d="M137.8,555.3H153.5"/>
<path d="M137.8,611.4H153.5"/>
<path d="M137.8,667.8H153.5"/>
<path d="M174.3,704.5V720"/>
<path d="M286.3,704.5V720"/>
<path d="M394.8,704.5V720"/>
<path d="M502.7,704.5V720"/>
<path d="M609.8,704.5V720"/>
<path d="M717.4,704.5V720"/>
<path d="M826.9,704.5V720"/>
</g>
<g fill="#000" font-size="18">
<text x="125.6" y="224.1" text-anchor="end">54°N</text>
<text x="125.6" y="280.9" text-anchor="end">52°N</text>
<text x="125.6" y="337.6" text-anchor="end">50°N</text>
<text x="125.6" y="394.0" text-anchor="end">48°N</text>
<text x="125.6" y="449.9" text-anchor="end">46°N</text>
<text x="125.6" y="505.9" text-anchor="end">44°N</text>
<text x="125.6" y="561.9" text-anchor="end">42°N</text>
<text x="125.6" y="618.0" text-anchor="end">40°N</text>
<text x="125.6" y="674.4" text-anchor="end">38°N</text>
<text x="174.3" y="746.6" text-anchor="middle">50°E</text>
<text x="286.3" y="746.6" text-anchor="middle">55°E</text>
<text x="394.8" y="746.6" text-anchor="middle">60°E</text>
<text x="502.7" y="746.6" text-anchor="middle">65°E</text>
<text x="609.8" y="746.6" text-anchor="middle">70°E</text>
<text x="717.4" y="746.6" text-anchor="middle">75°E</text>
<text x="826.9" y="746.6" text-anchor="middle">80°E</text>
</g>
<rect x="295.60" y="820.1" width="71.35" height="27.4" fill="#4B0082" stroke="#222" stroke-width="0.7"/>
<rect x="366.95" y="820.1" width="71.35" height="27.4" fill="#663399" stroke="#222" stroke-width="0.7"/>
<rect x="438.30" y="820.1" width="71.35" height="27.4" fill="#00308F" stroke="#222" stroke-width="0.7"/>
<rect x="509.65" y="820.1" width="71.35" height="27.4" fill="#3399FF" stroke="#222" stroke-width="0.7"/>
<rect x="581.00" y="820.1" width="71.35" height="27.4" fill="#C6E2FF" stroke="#222" stroke-width="0.7"/>
<rect x="652.35" y="820.1" width="71.35" height="27.4" fill="#FFFFFF" stroke="#222" stroke-width="0.7"/>
<rect x="723.70" y="820.1" width="71.35" height="27.4" fill="#FFFFC8" stroke="#222" stroke-width="0.7"/>
<g fill="#000" font-size="12" text-anchor="middle">
<text x="367.0" y="878">-20</text>
<text x="438.3" y="878">-15</text>
<text x="509.6" y="878">-10</text>
<text x="581.0" y="878">-5</text>
<text x="652.4" y="878">0</text>
<text x="723.7" y="878">5</text>
</g>
<text x="545.9" y="809" font-size="15.35" text-anchor="middle" fill="#000">Surface Air Temperature (C)</text>
</svg></body></html>
